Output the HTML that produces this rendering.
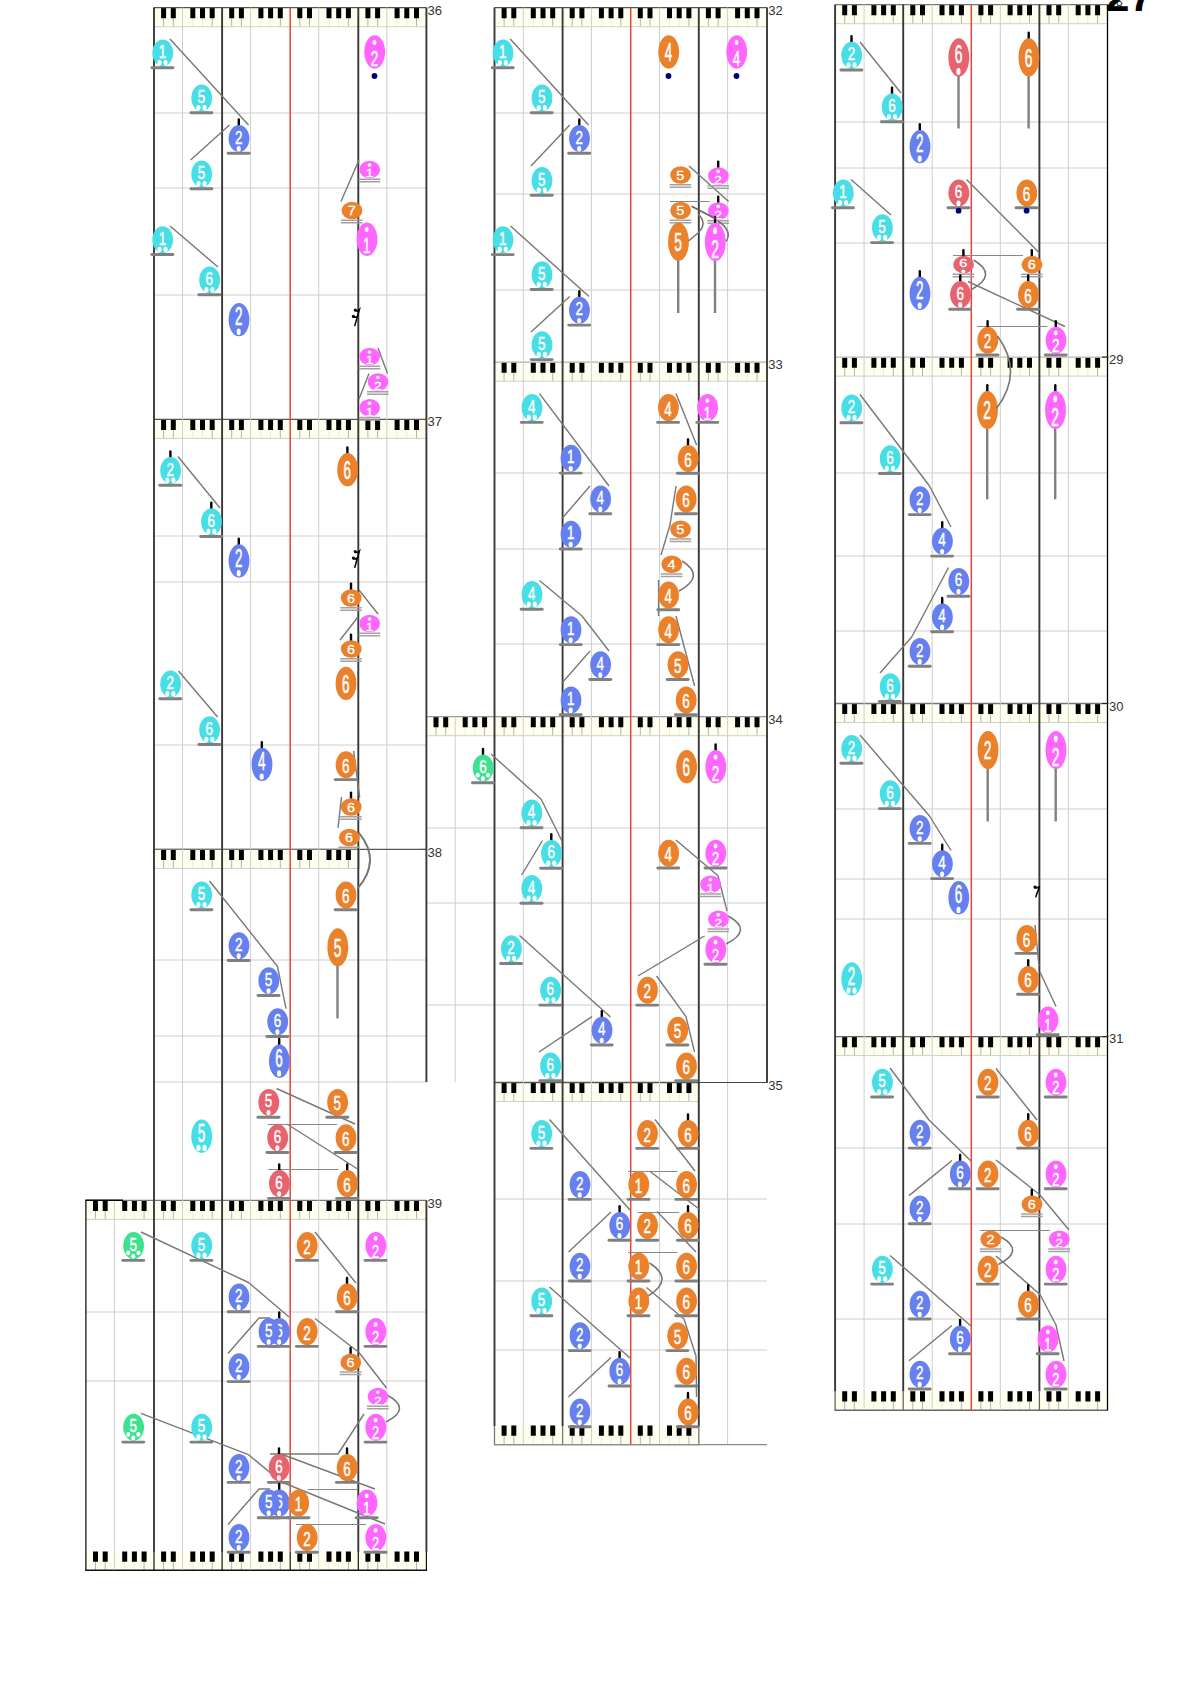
<!DOCTYPE html>
<html><head><meta charset="utf-8"><title>score</title>
<style>html,body{margin:0;padding:0;background:#fff}svg{display:block}.lb{font-family:"Liberation Sans",sans-serif;font-size:13px;fill:#333}.dg{font-family:"Liberation Sans",sans-serif;font-size:12px;fill:#fff;text-anchor:middle;stroke:#fff;stroke-width:.3px}.big{font-family:"Liberation Sans",sans-serif;font-size:43px;font-weight:bold;fill:#000}</style></head><body>
<svg width="1191" height="1684" viewBox="0 0 1191 1684">
<rect width="1191" height="1684" fill="#fff"/>
<path d="M154 113H426.4" stroke="#cecece" stroke-width="1"/>
<path d="M154 188H426.4" stroke="#cecece" stroke-width="1"/>
<path d="M154 295H426.4" stroke="#cecece" stroke-width="1"/>
<path d="M154 536H426.4" stroke="#cecece" stroke-width="1"/>
<path d="M154 582H426.4" stroke="#cecece" stroke-width="1"/>
<path d="M154 745H426.4" stroke="#cecece" stroke-width="1"/>
<path d="M154 960H426.4" stroke="#cecece" stroke-width="1"/>
<path d="M154 1036H426.4" stroke="#cecece" stroke-width="1"/>
<path d="M154 1082H426.4" stroke="#cecece" stroke-width="1"/>
<path d="M85.9 1312H426.4" stroke="#cecece" stroke-width="1"/>
<path d="M85.9 1381H426.4" stroke="#cecece" stroke-width="1"/>
<path d="M494.5 113H767" stroke="#cecece" stroke-width="1"/>
<path d="M494.5 194H767" stroke="#cecece" stroke-width="1"/>
<path d="M494.5 290H767" stroke="#cecece" stroke-width="1"/>
<path d="M494.5 473H767" stroke="#cecece" stroke-width="1"/>
<path d="M494.5 549H767" stroke="#cecece" stroke-width="1"/>
<path d="M494.5 644H767" stroke="#cecece" stroke-width="1"/>
<path d="M426.4 828H767" stroke="#cecece" stroke-width="1"/>
<path d="M426.4 903H767" stroke="#cecece" stroke-width="1"/>
<path d="M426.4 1005H767" stroke="#cecece" stroke-width="1"/>
<path d="M494.5 1199H767" stroke="#cecece" stroke-width="1"/>
<path d="M494.5 1281H767" stroke="#cecece" stroke-width="1"/>
<path d="M494.5 1350H767" stroke="#cecece" stroke-width="1"/>
<path d="M835.1 122H1107.2" stroke="#cecece" stroke-width="1"/>
<path d="M835.1 168H1107.2" stroke="#cecece" stroke-width="1"/>
<path d="M835.1 243H1107.2" stroke="#cecece" stroke-width="1"/>
<path d="M835.1 473H1107.2" stroke="#cecece" stroke-width="1"/>
<path d="M835.1 556H1107.2" stroke="#cecece" stroke-width="1"/>
<path d="M835.1 631H1107.2" stroke="#cecece" stroke-width="1"/>
<path d="M835.1 809H1107.2" stroke="#cecece" stroke-width="1"/>
<path d="M835.1 879H1107.2" stroke="#cecece" stroke-width="1"/>
<path d="M835.1 919H1107.2" stroke="#cecece" stroke-width="1"/>
<path d="M835.1 1148H1107.2" stroke="#cecece" stroke-width="1"/>
<path d="M835.1 1224H1107.2" stroke="#cecece" stroke-width="1"/>
<path d="M835.1 1319H1107.2" stroke="#cecece" stroke-width="1"/>
<rect x="154" y="7.5" width="272.4" height="19.2" fill="#fffff0"/>
<path d="M192.8 18V26.7M202.5 18V26.7M260.9 18V26.7M270.6 18V26.7M329 18V26.7M338.7 18V26.7M397.1 18V26.7M406.8 18V26.7" stroke="#ececd8" stroke-width="1" fill="none"/>
<path d="M163.6 18V26.7M173.3 18V26.7M212.2 18V26.7M231.7 18V26.7M241.4 18V26.7M280.3 18V26.7M299.8 18V26.7M309.5 18V26.7M348.4 18V26.7M367.9 18V26.7M377.6 18V26.7M416.5 18V26.7" stroke="#b4b4a8" stroke-width="1" fill="none"/>
<path d="M163.6 8.1v10.2M173.3 8.1v10.2M192.8 8.1v10.2M202.5 8.1v10.2M212.2 8.1v10.2M231.7 8.1v10.2M241.4 8.1v10.2M260.9 8.1v10.2M270.6 8.1v10.2M280.3 8.1v10.2M299.8 8.1v10.2M309.5 8.1v10.2M329 8.1v10.2M338.7 8.1v10.2M348.4 8.1v10.2M367.9 8.1v10.2M377.6 8.1v10.2M397.1 8.1v10.2M406.8 8.1v10.2M416.5 8.1v10.2" stroke="#000" stroke-width="5" fill="none"/>
<path d="M154 7.7H426.4" stroke="#555" stroke-width="1.3"/>
<path d="M154 26.7H426.4" stroke="#d0d0c8" stroke-width="1"/>
<rect x="154" y="419.2" width="272.4" height="19.2" fill="#fffff0"/>
<path d="M192.8 429.7V438.4M202.5 429.7V438.4M260.9 429.7V438.4M270.6 429.7V438.4M329 429.7V438.4M338.7 429.7V438.4M397.1 429.7V438.4M406.8 429.7V438.4" stroke="#ececd8" stroke-width="1" fill="none"/>
<path d="M163.6 429.7V438.4M173.3 429.7V438.4M212.2 429.7V438.4M231.7 429.7V438.4M241.4 429.7V438.4M280.3 429.7V438.4M299.8 429.7V438.4M309.5 429.7V438.4M348.4 429.7V438.4M367.9 429.7V438.4M377.6 429.7V438.4M416.5 429.7V438.4" stroke="#b4b4a8" stroke-width="1" fill="none"/>
<path d="M163.6 419.8v10.2M173.3 419.8v10.2M192.8 419.8v10.2M202.5 419.8v10.2M212.2 419.8v10.2M231.7 419.8v10.2M241.4 419.8v10.2M260.9 419.8v10.2M270.6 419.8v10.2M280.3 419.8v10.2M299.8 419.8v10.2M309.5 419.8v10.2M329 419.8v10.2M338.7 419.8v10.2M348.4 419.8v10.2M367.9 419.8v10.2M377.6 419.8v10.2M397.1 419.8v10.2M406.8 419.8v10.2M416.5 419.8v10.2" stroke="#000" stroke-width="5" fill="none"/>
<path d="M154 419.4H426.4" stroke="#555" stroke-width="1.3"/>
<path d="M154 438.4H426.4" stroke="#d0d0c8" stroke-width="1"/>
<rect x="154" y="849.2" width="204.3" height="19.2" fill="#fffff0"/>
<path d="M192.8 859.7V868.4M202.5 859.7V868.4M260.9 859.7V868.4M270.6 859.7V868.4M329 859.7V868.4M338.7 859.7V868.4" stroke="#ececd8" stroke-width="1" fill="none"/>
<path d="M163.6 859.7V868.4M173.3 859.7V868.4M212.2 859.7V868.4M231.7 859.7V868.4M241.4 859.7V868.4M280.3 859.7V868.4M299.8 859.7V868.4M309.5 859.7V868.4M348.4 859.7V868.4" stroke="#b4b4a8" stroke-width="1" fill="none"/>
<path d="M163.6 849.8v10.2M173.3 849.8v10.2M192.8 849.8v10.2M202.5 849.8v10.2M212.2 849.8v10.2M231.7 849.8v10.2M241.4 849.8v10.2M260.9 849.8v10.2M270.6 849.8v10.2M280.3 849.8v10.2M299.8 849.8v10.2M309.5 849.8v10.2M329 849.8v10.2M338.7 849.8v10.2M348.4 849.8v10.2" stroke="#000" stroke-width="5" fill="none"/>
<path d="M154 849.4H358.3" stroke="#777" stroke-width="1.3"/>
<path d="M154 868.4H358.3" stroke="#d0d0c8" stroke-width="1"/>
<rect x="85.9" y="1200.2" width="340.5" height="19.2" fill="#fffff0"/>
<path d="M124.7 1210.7V1219.4M134.4 1210.7V1219.4M192.8 1210.7V1219.4M202.5 1210.7V1219.4M260.9 1210.7V1219.4M270.6 1210.7V1219.4M329 1210.7V1219.4M338.7 1210.7V1219.4M397.1 1210.7V1219.4M406.8 1210.7V1219.4" stroke="#ececd8" stroke-width="1" fill="none"/>
<path d="M95.5 1210.7V1219.4M105.2 1210.7V1219.4M144.1 1210.7V1219.4M163.6 1210.7V1219.4M173.3 1210.7V1219.4M212.2 1210.7V1219.4M231.7 1210.7V1219.4M241.4 1210.7V1219.4M280.3 1210.7V1219.4M299.8 1210.7V1219.4M309.5 1210.7V1219.4M348.4 1210.7V1219.4M367.9 1210.7V1219.4M377.6 1210.7V1219.4M416.5 1210.7V1219.4" stroke="#b4b4a8" stroke-width="1" fill="none"/>
<path d="M95.5 1200.8v10.2M105.2 1200.8v10.2M124.7 1200.8v10.2M134.4 1200.8v10.2M144.1 1200.8v10.2M163.6 1200.8v10.2M173.3 1200.8v10.2M192.8 1200.8v10.2M202.5 1200.8v10.2M212.2 1200.8v10.2M231.7 1200.8v10.2M241.4 1200.8v10.2M260.9 1200.8v10.2M270.6 1200.8v10.2M280.3 1200.8v10.2M299.8 1200.8v10.2M309.5 1200.8v10.2M329 1200.8v10.2M338.7 1200.8v10.2M348.4 1200.8v10.2M367.9 1200.8v10.2M377.6 1200.8v10.2M397.1 1200.8v10.2M406.8 1200.8v10.2M416.5 1200.8v10.2" stroke="#000" stroke-width="5" fill="none"/>
<path d="M85.9 1200.4H426.4" stroke="#777" stroke-width="1.3"/>
<path d="M85.9 1219.4H426.4" stroke="#d0d0c8" stroke-width="1"/>
<path d="M85.4 1200.2H123" stroke="#000" stroke-width="1.4"/>
<rect x="85.9" y="1551" width="340.5" height="19.3" fill="#fffff0"/>
<path d="M124.7 1561.5V1570.3M134.4 1561.5V1570.3M192.8 1561.5V1570.3M202.5 1561.5V1570.3M260.9 1561.5V1570.3M270.6 1561.5V1570.3M329 1561.5V1570.3M338.7 1561.5V1570.3M397.1 1561.5V1570.3M406.8 1561.5V1570.3" stroke="#ececd8" stroke-width="1" fill="none"/>
<path d="M95.5 1561.5V1570.3M105.2 1561.5V1570.3M144.1 1561.5V1570.3M163.6 1561.5V1570.3M173.3 1561.5V1570.3M212.2 1561.5V1570.3M231.7 1561.5V1570.3M241.4 1561.5V1570.3M280.3 1561.5V1570.3M299.8 1561.5V1570.3M309.5 1561.5V1570.3M348.4 1561.5V1570.3M367.9 1561.5V1570.3M377.6 1561.5V1570.3M416.5 1561.5V1570.3" stroke="#b4b4a8" stroke-width="1" fill="none"/>
<path d="M95.5 1551.6v10.2M105.2 1551.6v10.2M124.7 1551.6v10.2M134.4 1551.6v10.2M144.1 1551.6v10.2M163.6 1551.6v10.2M173.3 1551.6v10.2M192.8 1551.6v10.2M202.5 1551.6v10.2M212.2 1551.6v10.2M231.7 1551.6v10.2M241.4 1551.6v10.2M260.9 1551.6v10.2M270.6 1551.6v10.2M280.3 1551.6v10.2M299.8 1551.6v10.2M309.5 1551.6v10.2M329 1551.6v10.2M338.7 1551.6v10.2M348.4 1551.6v10.2M367.9 1551.6v10.2M377.6 1551.6v10.2M397.1 1551.6v10.2M406.8 1551.6v10.2M416.5 1551.6v10.2" stroke="#000" stroke-width="5" fill="none"/>
<path d="M85.3 1570.3H427" stroke="#111" stroke-width="1.4"/>
<rect x="494.5" y="7.5" width="272.4" height="19.2" fill="#fffff0"/>
<path d="M533.3 18V26.7M543 18V26.7M601.4 18V26.7M611.1 18V26.7M669.5 18V26.7M679.2 18V26.7M737.6 18V26.7M747.3 18V26.7" stroke="#ececd8" stroke-width="1" fill="none"/>
<path d="M504.1 18V26.7M513.8 18V26.7M552.7 18V26.7M572.2 18V26.7M581.9 18V26.7M620.8 18V26.7M640.3 18V26.7M650 18V26.7M688.9 18V26.7M708.4 18V26.7M718.1 18V26.7M757 18V26.7" stroke="#b4b4a8" stroke-width="1" fill="none"/>
<path d="M504.1 8.1v10.2M513.8 8.1v10.2M533.3 8.1v10.2M543 8.1v10.2M552.7 8.1v10.2M572.2 8.1v10.2M581.9 8.1v10.2M601.4 8.1v10.2M611.1 8.1v10.2M620.8 8.1v10.2M640.3 8.1v10.2M650 8.1v10.2M669.5 8.1v10.2M679.2 8.1v10.2M688.9 8.1v10.2M708.4 8.1v10.2M718.1 8.1v10.2M737.6 8.1v10.2M747.3 8.1v10.2M757 8.1v10.2" stroke="#000" stroke-width="5" fill="none"/>
<path d="M494.5 7.7H766.9" stroke="#555" stroke-width="1.3"/>
<path d="M494.5 26.7H766.9" stroke="#d0d0c8" stroke-width="1"/>
<rect x="494.5" y="362" width="272.4" height="19.2" fill="#fffff0"/>
<path d="M533.3 372.5V381.2M543 372.5V381.2M601.4 372.5V381.2M611.1 372.5V381.2M669.5 372.5V381.2M679.2 372.5V381.2M737.6 372.5V381.2M747.3 372.5V381.2" stroke="#ececd8" stroke-width="1" fill="none"/>
<path d="M504.1 372.5V381.2M513.8 372.5V381.2M552.7 372.5V381.2M572.2 372.5V381.2M581.9 372.5V381.2M620.8 372.5V381.2M640.3 372.5V381.2M650 372.5V381.2M688.9 372.5V381.2M708.4 372.5V381.2M718.1 372.5V381.2M757 372.5V381.2" stroke="#b4b4a8" stroke-width="1" fill="none"/>
<path d="M504.1 362.6v10.2M513.8 362.6v10.2M533.3 362.6v10.2M543 362.6v10.2M552.7 362.6v10.2M572.2 362.6v10.2M581.9 362.6v10.2M601.4 362.6v10.2M611.1 362.6v10.2M620.8 362.6v10.2M640.3 362.6v10.2M650 362.6v10.2M669.5 362.6v10.2M679.2 362.6v10.2M688.9 362.6v10.2M708.4 362.6v10.2M718.1 362.6v10.2M737.6 362.6v10.2M747.3 362.6v10.2M757 362.6v10.2" stroke="#000" stroke-width="5" fill="none"/>
<path d="M494.5 362.2H766.9" stroke="#b0b0b0" stroke-width="1.3"/>
<path d="M494.5 381.2H766.9" stroke="#d0d0c8" stroke-width="1"/>
<rect x="426.4" y="716.5" width="340.5" height="19.2" fill="#fffff0"/>
<path d="M465.2 727V735.7M474.9 727V735.7M533.3 727V735.7M543 727V735.7M601.4 727V735.7M611.1 727V735.7M669.5 727V735.7M679.2 727V735.7M737.6 727V735.7M747.3 727V735.7" stroke="#ececd8" stroke-width="1" fill="none"/>
<path d="M436 727V735.7M445.7 727V735.7M484.6 727V735.7M504.1 727V735.7M513.8 727V735.7M552.7 727V735.7M572.2 727V735.7M581.9 727V735.7M620.8 727V735.7M640.3 727V735.7M650 727V735.7M688.9 727V735.7M708.4 727V735.7M718.1 727V735.7M757 727V735.7" stroke="#b4b4a8" stroke-width="1" fill="none"/>
<path d="M436 717.1v10.2M445.7 717.1v10.2M465.2 717.1v10.2M474.9 717.1v10.2M484.6 717.1v10.2M504.1 717.1v10.2M513.8 717.1v10.2M533.3 717.1v10.2M543 717.1v10.2M552.7 717.1v10.2M572.2 717.1v10.2M581.9 717.1v10.2M601.4 717.1v10.2M611.1 717.1v10.2M620.8 717.1v10.2M640.3 717.1v10.2M650 717.1v10.2M669.5 717.1v10.2M679.2 717.1v10.2M688.9 717.1v10.2M708.4 717.1v10.2M718.1 717.1v10.2M737.6 717.1v10.2M747.3 717.1v10.2M757 717.1v10.2" stroke="#000" stroke-width="5" fill="none"/>
<path d="M426.4 716.7H766.9" stroke="#999" stroke-width="1.3"/>
<path d="M426.4 735.7H766.9" stroke="#d0d0c8" stroke-width="1"/>
<rect x="494.5" y="1082.3" width="204.3" height="19.2" fill="#fffff0"/>
<path d="M533.3 1092.8V1101.5M543 1092.8V1101.5M601.4 1092.8V1101.5M611.1 1092.8V1101.5M669.5 1092.8V1101.5M679.2 1092.8V1101.5" stroke="#ececd8" stroke-width="1" fill="none"/>
<path d="M504.1 1092.8V1101.5M513.8 1092.8V1101.5M552.7 1092.8V1101.5M572.2 1092.8V1101.5M581.9 1092.8V1101.5M620.8 1092.8V1101.5M640.3 1092.8V1101.5M650 1092.8V1101.5M688.9 1092.8V1101.5" stroke="#b4b4a8" stroke-width="1" fill="none"/>
<path d="M504.1 1082.9v10.2M513.8 1082.9v10.2M533.3 1082.9v10.2M543 1082.9v10.2M552.7 1082.9v10.2M572.2 1082.9v10.2M581.9 1082.9v10.2M601.4 1082.9v10.2M611.1 1082.9v10.2M620.8 1082.9v10.2M640.3 1082.9v10.2M650 1082.9v10.2M669.5 1082.9v10.2M679.2 1082.9v10.2M688.9 1082.9v10.2" stroke="#000" stroke-width="5" fill="none"/>
<path d="M494.5 1082.5H698.8" stroke="#555" stroke-width="1.3"/>
<path d="M494.5 1101.5H698.8" stroke="#d0d0c8" stroke-width="1"/>
<rect x="494.5" y="1425" width="204.3" height="19.6" fill="#fffff0"/>
<path d="M533.3 1435.5V1444.6M543 1435.5V1444.6M601.4 1435.5V1444.6M611.1 1435.5V1444.6M669.5 1435.5V1444.6M679.2 1435.5V1444.6" stroke="#ececd8" stroke-width="1" fill="none"/>
<path d="M504.1 1435.5V1444.6M513.8 1435.5V1444.6M552.7 1435.5V1444.6M572.2 1435.5V1444.6M581.9 1435.5V1444.6M620.8 1435.5V1444.6M640.3 1435.5V1444.6M650 1435.5V1444.6M688.9 1435.5V1444.6" stroke="#b4b4a8" stroke-width="1" fill="none"/>
<path d="M504.1 1425.6v10.2M513.8 1425.6v10.2M533.3 1425.6v10.2M543 1425.6v10.2M552.7 1425.6v10.2M572.2 1425.6v10.2M581.9 1425.6v10.2M601.4 1425.6v10.2M611.1 1425.6v10.2M620.8 1425.6v10.2M640.3 1425.6v10.2M650 1425.6v10.2M669.5 1425.6v10.2M679.2 1425.6v10.2M688.9 1425.6v10.2" stroke="#000" stroke-width="5" fill="none"/>
<path d="M493.9 1444.6H699.4" stroke="#808080" stroke-width="1.4"/>
<rect x="835.1" y="4.5" width="272.4" height="19.2" fill="#fffff0"/>
<path d="M873.9 15V23.7M883.6 15V23.7M942 15V23.7M951.7 15V23.7M1010.1 15V23.7M1019.8 15V23.7M1078.2 15V23.7M1087.9 15V23.7" stroke="#ececd8" stroke-width="1" fill="none"/>
<path d="M844.7 15V23.7M854.4 15V23.7M893.3 15V23.7M912.8 15V23.7M922.5 15V23.7M961.4 15V23.7M980.9 15V23.7M990.6 15V23.7M1029.5 15V23.7M1049 15V23.7M1058.7 15V23.7M1097.6 15V23.7" stroke="#b4b4a8" stroke-width="1" fill="none"/>
<path d="M844.7 5.1v10.2M854.4 5.1v10.2M873.9 5.1v10.2M883.6 5.1v10.2M893.3 5.1v10.2M912.8 5.1v10.2M922.5 5.1v10.2M942 5.1v10.2M951.7 5.1v10.2M961.4 5.1v10.2M980.9 5.1v10.2M990.6 5.1v10.2M1010.1 5.1v10.2M1019.8 5.1v10.2M1029.5 5.1v10.2M1049 5.1v10.2M1058.7 5.1v10.2M1078.2 5.1v10.2M1087.9 5.1v10.2M1097.6 5.1v10.2" stroke="#000" stroke-width="5" fill="none"/>
<path d="M835.1 4.7H1107.5" stroke="#777" stroke-width="1.3"/>
<path d="M835.1 23.7H1107.5" stroke="#d0d0c8" stroke-width="1"/>
<rect x="835.1" y="356.9" width="272.4" height="19.2" fill="#fffff0"/>
<path d="M873.9 367.4V376.1M883.6 367.4V376.1M942 367.4V376.1M951.7 367.4V376.1M1010.1 367.4V376.1M1019.8 367.4V376.1M1078.2 367.4V376.1M1087.9 367.4V376.1" stroke="#ececd8" stroke-width="1" fill="none"/>
<path d="M844.7 367.4V376.1M854.4 367.4V376.1M893.3 367.4V376.1M912.8 367.4V376.1M922.5 367.4V376.1M961.4 367.4V376.1M980.9 367.4V376.1M990.6 367.4V376.1M1029.5 367.4V376.1M1049 367.4V376.1M1058.7 367.4V376.1M1097.6 367.4V376.1" stroke="#b4b4a8" stroke-width="1" fill="none"/>
<path d="M844.7 357.5v10.2M854.4 357.5v10.2M873.9 357.5v10.2M883.6 357.5v10.2M893.3 357.5v10.2M912.8 357.5v10.2M922.5 357.5v10.2M942 357.5v10.2M951.7 357.5v10.2M961.4 357.5v10.2M980.9 357.5v10.2M990.6 357.5v10.2M1010.1 357.5v10.2M1019.8 357.5v10.2M1029.5 357.5v10.2M1049 357.5v10.2M1058.7 357.5v10.2M1078.2 357.5v10.2M1087.9 357.5v10.2M1097.6 357.5v10.2" stroke="#000" stroke-width="5" fill="none"/>
<path d="M835.1 357.1H1107.5" stroke="#bbb" stroke-width="1.3"/>
<path d="M835.1 376.1H1107.5" stroke="#d0d0c8" stroke-width="1"/>
<rect x="835.1" y="703.3" width="272.4" height="19.2" fill="#fffff0"/>
<path d="M873.9 713.8V722.5M883.6 713.8V722.5M942 713.8V722.5M951.7 713.8V722.5M1010.1 713.8V722.5M1019.8 713.8V722.5M1078.2 713.8V722.5M1087.9 713.8V722.5" stroke="#ececd8" stroke-width="1" fill="none"/>
<path d="M844.7 713.8V722.5M854.4 713.8V722.5M893.3 713.8V722.5M912.8 713.8V722.5M922.5 713.8V722.5M961.4 713.8V722.5M980.9 713.8V722.5M990.6 713.8V722.5M1029.5 713.8V722.5M1049 713.8V722.5M1058.7 713.8V722.5M1097.6 713.8V722.5" stroke="#b4b4a8" stroke-width="1" fill="none"/>
<path d="M844.7 703.9v10.2M854.4 703.9v10.2M873.9 703.9v10.2M883.6 703.9v10.2M893.3 703.9v10.2M912.8 703.9v10.2M922.5 703.9v10.2M942 703.9v10.2M951.7 703.9v10.2M961.4 703.9v10.2M980.9 703.9v10.2M990.6 703.9v10.2M1010.1 703.9v10.2M1019.8 703.9v10.2M1029.5 703.9v10.2M1049 703.9v10.2M1058.7 703.9v10.2M1078.2 703.9v10.2M1087.9 703.9v10.2M1097.6 703.9v10.2" stroke="#000" stroke-width="5" fill="none"/>
<path d="M835.1 703.5H1107.5" stroke="#777" stroke-width="1.3"/>
<path d="M835.1 722.5H1107.5" stroke="#d0d0c8" stroke-width="1"/>
<rect x="835.1" y="1036.4" width="272.4" height="19.2" fill="#fffff0"/>
<path d="M873.9 1046.9V1055.6M883.6 1046.9V1055.6M942 1046.9V1055.6M951.7 1046.9V1055.6M1010.1 1046.9V1055.6M1019.8 1046.9V1055.6M1078.2 1046.9V1055.6M1087.9 1046.9V1055.6" stroke="#ececd8" stroke-width="1" fill="none"/>
<path d="M844.7 1046.9V1055.6M854.4 1046.9V1055.6M893.3 1046.9V1055.6M912.8 1046.9V1055.6M922.5 1046.9V1055.6M961.4 1046.9V1055.6M980.9 1046.9V1055.6M990.6 1046.9V1055.6M1029.5 1046.9V1055.6M1049 1046.9V1055.6M1058.7 1046.9V1055.6M1097.6 1046.9V1055.6" stroke="#b4b4a8" stroke-width="1" fill="none"/>
<path d="M844.7 1037v10.2M854.4 1037v10.2M873.9 1037v10.2M883.6 1037v10.2M893.3 1037v10.2M912.8 1037v10.2M922.5 1037v10.2M942 1037v10.2M951.7 1037v10.2M961.4 1037v10.2M980.9 1037v10.2M990.6 1037v10.2M1010.1 1037v10.2M1019.8 1037v10.2M1029.5 1037v10.2M1049 1037v10.2M1058.7 1037v10.2M1078.2 1037v10.2M1087.9 1037v10.2M1097.6 1037v10.2" stroke="#000" stroke-width="5" fill="none"/>
<path d="M835.1 1036.6H1107.5" stroke="#666" stroke-width="1.3"/>
<path d="M835.1 1055.6H1107.5" stroke="#d0d0c8" stroke-width="1"/>
<rect x="835.1" y="1390.6" width="272.4" height="19.6" fill="#fffff0"/>
<path d="M873.9 1401.1V1410.2M883.6 1401.1V1410.2M942 1401.1V1410.2M951.7 1401.1V1410.2M1010.1 1401.1V1410.2M1019.8 1401.1V1410.2M1078.2 1401.1V1410.2M1087.9 1401.1V1410.2" stroke="#ececd8" stroke-width="1" fill="none"/>
<path d="M844.7 1401.1V1410.2M854.4 1401.1V1410.2M893.3 1401.1V1410.2M912.8 1401.1V1410.2M922.5 1401.1V1410.2M961.4 1401.1V1410.2M980.9 1401.1V1410.2M990.6 1401.1V1410.2M1029.5 1401.1V1410.2M1049 1401.1V1410.2M1058.7 1401.1V1410.2M1097.6 1401.1V1410.2" stroke="#b4b4a8" stroke-width="1" fill="none"/>
<path d="M844.7 1391.2v10.2M854.4 1391.2v10.2M873.9 1391.2v10.2M883.6 1391.2v10.2M893.3 1391.2v10.2M912.8 1391.2v10.2M922.5 1391.2v10.2M942 1391.2v10.2M951.7 1391.2v10.2M961.4 1391.2v10.2M980.9 1391.2v10.2M990.6 1391.2v10.2M1010.1 1391.2v10.2M1019.8 1391.2v10.2M1029.5 1391.2v10.2M1049 1391.2v10.2M1058.7 1391.2v10.2M1078.2 1391.2v10.2M1087.9 1391.2v10.2M1097.6 1391.2v10.2" stroke="#000" stroke-width="5" fill="none"/>
<path d="M834.5 1410.2H1108.1" stroke="#666" stroke-width="1.4"/>
<path d="M182.5 7.5V1570" stroke="#cecece" stroke-width="1"/>
<path d="M250.6 7.5V1570" stroke="#cecece" stroke-width="1"/>
<path d="M318.7 7.5V1570" stroke="#cecece" stroke-width="1"/>
<path d="M386.8 7.5V1570" stroke="#cecece" stroke-width="1"/>
<path d="M114.4 1201V1570" stroke="#cecece" stroke-width="1"/>
<path d="M523.3 7.5V1445" stroke="#cecece" stroke-width="1"/>
<path d="M591.4 7.5V1445" stroke="#cecece" stroke-width="1"/>
<path d="M659.5 7.5V1445" stroke="#cecece" stroke-width="1"/>
<path d="M727.6 7.5V1445" stroke="#cecece" stroke-width="1"/>
<path d="M455.2 716.6V1082" stroke="#cecece" stroke-width="1"/>
<path d="M864.1 4.5V1410" stroke="#cecece" stroke-width="1"/>
<path d="M932.2 4.5V1410" stroke="#cecece" stroke-width="1"/>
<path d="M1000.3 4.5V1410" stroke="#cecece" stroke-width="1"/>
<path d="M1068.4 4.5V1410" stroke="#cecece" stroke-width="1"/>
<path d="M358 849.4H427" stroke="#555" stroke-width="1.1"/>
<path d="M420 849.4H427" stroke="#555" stroke-width="1.1"/>
<path d="M698.6 1082.5H767.6" stroke="#444" stroke-width="1.2"/>
<path d="M494.5 1444.6H767" stroke="#8c8c8c" stroke-width="1.2"/>
<path d="M154 7.5V1552" stroke="#383838" stroke-width="1.9"/>
<path d="M154 1552V1570.3" stroke="#111" stroke-width="1.2"/>
<path d="M222.1 7.5V1552" stroke="#383838" stroke-width="1.9"/>
<path d="M222.1 1552V1570.3" stroke="#111" stroke-width="1.2"/>
<path d="M358.3 7.5V1552" stroke="#383838" stroke-width="1.9"/>
<path d="M358.3 1552V1570.3" stroke="#111" stroke-width="1.2"/>
<path d="M290.2 7.5V1552" stroke="#e8423c" stroke-width="1.5"/>
<path d="M290.2 1552V1570.3" stroke="#111" stroke-width="1.2"/>
<path d="M426.4 7.5V1082" stroke="#383838" stroke-width="1.9"/>
<path d="M426.4 1200.2V1552" stroke="#383838" stroke-width="1.9"/>
<path d="M426.4 1552V1570.3" stroke="#111" stroke-width="1.2"/>
<path d="M85.9 1200.2V1570.3" stroke="#000" stroke-width="1.2"/>
<path d="M494.5 7.5V1426" stroke="#383838" stroke-width="1.9"/>
<path d="M494.5 1426V1444.6" stroke="#777" stroke-width="1.3"/>
<path d="M562.6 7.5V1426" stroke="#383838" stroke-width="1.9"/>
<path d="M562.6 1426V1444.6" stroke="#777" stroke-width="1.3"/>
<path d="M698.8 7.5V1426" stroke="#383838" stroke-width="1.9"/>
<path d="M698.8 1426V1444.6" stroke="#777" stroke-width="1.3"/>
<path d="M630.7 7.5V1444.6" stroke="#e8423c" stroke-width="1.5"/>
<path d="M767 7.5V1082.6" stroke="#383838" stroke-width="1.9"/>
<path d="M835.1 4.5V1391.5" stroke="#383838" stroke-width="1.9"/>
<path d="M835.1 1391.5V1410.2" stroke="#666" stroke-width="1.3"/>
<path d="M903.2 4.5V1391.5" stroke="#383838" stroke-width="1.9"/>
<path d="M903.2 1391.5V1410.2" stroke="#666" stroke-width="1.3"/>
<path d="M1039.4 4.5V1391.5" stroke="#383838" stroke-width="1.9"/>
<path d="M1039.4 1391.5V1410.2" stroke="#666" stroke-width="1.3"/>
<path d="M971.3 4.5V1410.2" stroke="#e8423c" stroke-width="1.5"/>
<path d="M1107.5 4.5V1410.2" stroke="#000" stroke-width="1.3"/>
<text x="427.6" y="14.6" class="lb">36</text>
<text x="427.6" y="426.4" class="lb">37</text>
<text x="427.6" y="856.6" class="lb">38</text>
<text x="427.6" y="1207.6" class="lb">39</text>
<text x="768.2" y="14.6" class="lb">32</text>
<text x="768.2" y="369.4" class="lb">33</text>
<text x="768.2" y="723.6" class="lb">34</text>
<text x="768.2" y="1089.6" class="lb">35</text>
<text x="1109" y="364" class="lb">29</text>
<text x="1109" y="710.6" class="lb">30</text>
<text x="1109" y="1043.4" class="lb">31</text>
<text x="1108.5" y="9.5" class="lb">28</text>
<path d="M1102 357.1H1108.5" stroke="#222" stroke-width="1.1"/>
<path d="M1102 703.5H1108.5" stroke="#222" stroke-width="1.1"/>
<path d="M1102 1036.6H1108.5" stroke="#222" stroke-width="1.1"/>
<text x="1105.6" y="11" class="big">27</text>
<path d="M170 39L248.5 125" stroke="#787878" stroke-width="1.4" fill="none" stroke-linejoin="round"/>
<path d="M190.6 160L229.5 125" stroke="#787878" stroke-width="1.4" fill="none" stroke-linejoin="round"/>
<path d="M341 201.5L359 160" stroke="#787878" stroke-width="1.4" fill="none" stroke-linejoin="round"/>
<path d="M170 226L218 267" stroke="#787878" stroke-width="1.4" fill="none" stroke-linejoin="round"/>
<path d="M378 348L387.5 373.5" stroke="#787878" stroke-width="1.4" fill="none" stroke-linejoin="round"/>
<path d="M359 399L369 373.5" stroke="#787878" stroke-width="1.4" fill="none" stroke-linejoin="round"/>
<ellipse cx="162.7" cy="53" rx="10.4" ry="13.5" fill="#48DEE6"/>
<text transform="translate(162.4 58) scale(1.12 1.60)" class="dg">1</text>
<ellipse cx="159.5" cy="62.8" rx="2.05" ry="2.8" fill="#fff"/>
<ellipse cx="165.5" cy="62.8" rx="2.05" ry="2.8" fill="#fff"/>
<path d="M151.9 67.8H172.9" stroke="#808080" stroke-width="2.9" stroke-linecap="round"/>
<ellipse cx="201.7" cy="98" rx="10.4" ry="13.5" fill="#48DEE6"/>
<text transform="translate(201.4 103) scale(1.12 1.60)" class="dg">5</text>
<ellipse cx="198.5" cy="107.8" rx="2.05" ry="2.8" fill="#fff"/>
<ellipse cx="204.5" cy="107.8" rx="2.05" ry="2.8" fill="#fff"/>
<path d="M190.9 112.8H211.9" stroke="#808080" stroke-width="2.9" stroke-linecap="round"/>
<path d="M238.8 119.4V126" stroke="#000" stroke-width="2.4" stroke-linecap="round"/>
<ellipse cx="239" cy="138.5" rx="10.4" ry="13.5" fill="#6680F0"/>
<text transform="translate(238.7 143.5) scale(1.12 1.60)" class="dg">2</text>
<ellipse cx="238.7" cy="148.9" rx="2.05" ry="2.8" fill="#fff"/>
<path d="M228.2 153.3H249.2" stroke="#808080" stroke-width="2.9" stroke-linecap="round"/>
<ellipse cx="201.7" cy="174" rx="10.4" ry="13.5" fill="#48DEE6"/>
<text transform="translate(201.4 179) scale(1.12 1.60)" class="dg">5</text>
<ellipse cx="198.5" cy="183.8" rx="2.05" ry="2.8" fill="#fff"/>
<ellipse cx="204.5" cy="183.8" rx="2.05" ry="2.8" fill="#fff"/>
<path d="M190.9 188.8H211.9" stroke="#808080" stroke-width="2.9" stroke-linecap="round"/>
<ellipse cx="374.7" cy="52" rx="10.4" ry="16.7" fill="#FF66FF"/>
<text transform="translate(374.4 66) scale(1.12 1.88)" class="dg">2</text>
<ellipse cx="374.5" cy="42.3" rx="1.9" ry="2.6" fill="#fff"/>
<circle cx="374.5" cy="76" r="2.9" fill="#000080"/>
<ellipse cx="369.7" cy="169.5" rx="10.4" ry="8.8" fill="#FF66FF"/>
<text transform="translate(369.4 177.4) scale(1.2 0.92)" class="dg">1</text>
<ellipse cx="369.5" cy="165" rx="1.9" ry="1.7" fill="#fff"/>
<path d="M358.7 179.2H380.3M358.7 181.7H380.3" stroke="#a2a2a2" stroke-width="1.5"/>
<ellipse cx="352" cy="210.5" rx="10.4" ry="8.8" fill="#EC812C"/>
<text transform="translate(351.7 215.3) scale(1.2 1.02)" class="dg">7</text>
<path d="M341 220.2H362.6M341 222.7H362.6" stroke="#a2a2a2" stroke-width="1.5"/>
<ellipse cx="367" cy="239.3" rx="10.4" ry="16.7" fill="#FF66FF"/>
<text transform="translate(366.7 253.2) scale(1.12 1.88)" class="dg">1</text>
<ellipse cx="366.8" cy="229.6" rx="1.9" ry="2.6" fill="#fff"/>
<ellipse cx="162.7" cy="239.7" rx="10.4" ry="13.5" fill="#48DEE6"/>
<text transform="translate(162.4 244.7) scale(1.12 1.60)" class="dg">1</text>
<ellipse cx="159.5" cy="249.5" rx="2.05" ry="2.8" fill="#fff"/>
<ellipse cx="165.5" cy="249.5" rx="2.05" ry="2.8" fill="#fff"/>
<path d="M151.9 254.5H172.9" stroke="#808080" stroke-width="2.9" stroke-linecap="round"/>
<ellipse cx="209.6" cy="280" rx="10.4" ry="13.5" fill="#48DEE6"/>
<text transform="translate(209.3 285) scale(1.12 1.60)" class="dg">6</text>
<ellipse cx="206.4" cy="289.8" rx="2.05" ry="2.8" fill="#fff"/>
<ellipse cx="212.4" cy="289.8" rx="2.05" ry="2.8" fill="#fff"/>
<path d="M198.8 294.8H219.8" stroke="#808080" stroke-width="2.9" stroke-linecap="round"/>
<ellipse cx="239" cy="319.6" rx="10.4" ry="16.7" fill="#6680F0"/>
<text transform="translate(238.7 325.2) scale(1.12 2.09)" class="dg">2</text>
<ellipse cx="238.7" cy="331.8" rx="2.05" ry="3.2" fill="#fff"/>
<g transform="translate(356 317)"><circle cx="-0.7" cy="-7" r="1.6" fill="#000"/><circle cx="-2.6" cy="-0.6" r="1.6" fill="#000"/><path d="M-0.6 -6.2Q1.8 -5.8 3.4 -7.4L-1.2 8.6M-2.4 0.3Q0 0.6 1.6 -1" stroke="#000" stroke-width="1.5" fill="none" stroke-linecap="round"/></g>
<ellipse cx="369.7" cy="356.5" rx="10.4" ry="8.8" fill="#FF66FF"/>
<text transform="translate(369.4 364.4) scale(1.2 0.92)" class="dg">1</text>
<ellipse cx="369.5" cy="352" rx="1.9" ry="1.7" fill="#fff"/>
<path d="M358.7 366.2H380.3M358.7 368.7H380.3" stroke="#a2a2a2" stroke-width="1.5"/>
<ellipse cx="378" cy="382" rx="10.4" ry="8.8" fill="#FF66FF"/>
<text transform="translate(377.7 389.9) scale(1.2 0.92)" class="dg">2</text>
<ellipse cx="377.8" cy="377.5" rx="1.9" ry="1.7" fill="#fff"/>
<path d="M367 391.7H388.6M367 394.2H388.6" stroke="#a2a2a2" stroke-width="1.5"/>
<ellipse cx="369.7" cy="407.8" rx="10.4" ry="8.8" fill="#FF66FF"/>
<text transform="translate(369.4 415.7) scale(1.2 0.92)" class="dg">1</text>
<ellipse cx="369.5" cy="403.3" rx="1.9" ry="1.7" fill="#fff"/>
<path d="M358.7 417.5H380.3M358.7 420H380.3" stroke="#a2a2a2" stroke-width="1.5"/>
<path d="M178 456.5L220 508" stroke="#787878" stroke-width="1.4" fill="none" stroke-linejoin="round"/>
<path d="M359 590L378 614" stroke="#787878" stroke-width="1.4" fill="none" stroke-linejoin="round"/>
<path d="M340 640L358 617" stroke="#787878" stroke-width="1.4" fill="none" stroke-linejoin="round"/>
<path d="M178.5 671L217.6 717" stroke="#787878" stroke-width="1.4" fill="none" stroke-linejoin="round"/>
<path d="M353.6 751L359.7 797.7" stroke="#787878" stroke-width="1.4" fill="none" stroke-linejoin="round"/>
<path d="M341.5 797L338 828" stroke="#787878" stroke-width="1.4" fill="none" stroke-linejoin="round"/>
<path d="M359 833Q381.5 860.5 358 888" stroke="#777" stroke-width="1.6" fill="none"/>
<path d="M170.4 451.4V458" stroke="#000" stroke-width="2.4" stroke-linecap="round"/>
<ellipse cx="170.6" cy="470.5" rx="10.4" ry="13.5" fill="#48DEE6"/>
<text transform="translate(170.3 475.5) scale(1.12 1.60)" class="dg">2</text>
<ellipse cx="167.4" cy="480.3" rx="2.05" ry="2.8" fill="#fff"/>
<ellipse cx="173.4" cy="480.3" rx="2.05" ry="2.8" fill="#fff"/>
<path d="M159.8 485.3H180.8" stroke="#808080" stroke-width="2.9" stroke-linecap="round"/>
<path d="M211.3 502.6V509.2" stroke="#000" stroke-width="2.4" stroke-linecap="round"/>
<ellipse cx="211.5" cy="521.7" rx="10.4" ry="13.5" fill="#48DEE6"/>
<text transform="translate(211.2 526.7) scale(1.12 1.60)" class="dg">6</text>
<ellipse cx="208.3" cy="531.5" rx="2.05" ry="2.8" fill="#fff"/>
<ellipse cx="214.3" cy="531.5" rx="2.05" ry="2.8" fill="#fff"/>
<path d="M200.7 536.5H221.7" stroke="#808080" stroke-width="2.9" stroke-linecap="round"/>
<path d="M238.8 538.7V545.3" stroke="#000" stroke-width="2.4" stroke-linecap="round"/>
<ellipse cx="239" cy="561" rx="10.4" ry="16.7" fill="#6680F0"/>
<text transform="translate(238.7 566.6) scale(1.12 2.09)" class="dg">2</text>
<ellipse cx="238.7" cy="573.2" rx="2.05" ry="3.2" fill="#fff"/>
<path d="M347.4 447.4V454" stroke="#000" stroke-width="2.4" stroke-linecap="round"/>
<ellipse cx="347.6" cy="469.7" rx="10.4" ry="16.7" fill="#EC812C"/>
<text transform="translate(347.3 478.9) scale(1.12 2.15)" class="dg">6</text>
<g transform="translate(356 558.6)"><circle cx="-0.7" cy="-7" r="1.6" fill="#000"/><circle cx="-2.6" cy="-0.6" r="1.6" fill="#000"/><path d="M-0.6 -6.2Q1.8 -5.8 3.4 -7.4L-1.2 8.6M-2.4 0.3Q0 0.6 1.6 -1" stroke="#000" stroke-width="1.5" fill="none" stroke-linecap="round"/></g>
<path d="M351 583.6V590.2" stroke="#000" stroke-width="2.4" stroke-linecap="round"/>
<ellipse cx="351.2" cy="598" rx="10.4" ry="8.8" fill="#EC812C"/>
<text transform="translate(350.9 602.8) scale(1.2 1.02)" class="dg">6</text>
<path d="M340.2 607.7H361.8M340.2 610.2H361.8" stroke="#a2a2a2" stroke-width="1.5"/>
<ellipse cx="369.7" cy="623.5" rx="10.4" ry="8.8" fill="#FF66FF"/>
<text transform="translate(369.4 631.4) scale(1.2 0.92)" class="dg">1</text>
<ellipse cx="369.5" cy="619" rx="1.9" ry="1.7" fill="#fff"/>
<path d="M358.7 633.2H380.3M358.7 635.7H380.3" stroke="#a2a2a2" stroke-width="1.5"/>
<path d="M351 634.6V641.2" stroke="#000" stroke-width="2.4" stroke-linecap="round"/>
<ellipse cx="351.2" cy="649" rx="10.4" ry="8.8" fill="#EC812C"/>
<text transform="translate(350.9 653.8) scale(1.2 1.02)" class="dg">6</text>
<path d="M340.2 658.7H361.8M340.2 661.2H361.8" stroke="#a2a2a2" stroke-width="1.5"/>
<ellipse cx="346" cy="683.4" rx="10.4" ry="16.7" fill="#EC812C"/>
<text transform="translate(345.7 692.6) scale(1.12 2.15)" class="dg">6</text>
<ellipse cx="170.6" cy="684" rx="10.4" ry="13.5" fill="#48DEE6"/>
<text transform="translate(170.3 689) scale(1.12 1.60)" class="dg">2</text>
<ellipse cx="167.4" cy="693.8" rx="2.05" ry="2.8" fill="#fff"/>
<ellipse cx="173.4" cy="693.8" rx="2.05" ry="2.8" fill="#fff"/>
<path d="M159.8 698.8H180.8" stroke="#808080" stroke-width="2.9" stroke-linecap="round"/>
<ellipse cx="209.6" cy="729.7" rx="10.4" ry="13.5" fill="#48DEE6"/>
<text transform="translate(209.3 734.7) scale(1.12 1.60)" class="dg">6</text>
<ellipse cx="206.4" cy="739.5" rx="2.05" ry="2.8" fill="#fff"/>
<ellipse cx="212.4" cy="739.5" rx="2.05" ry="2.8" fill="#fff"/>
<path d="M198.8 744.5H219.8" stroke="#808080" stroke-width="2.9" stroke-linecap="round"/>
<path d="M261.8 742.1V748.7" stroke="#000" stroke-width="2.4" stroke-linecap="round"/>
<ellipse cx="262" cy="764.4" rx="10.4" ry="16.7" fill="#6680F0"/>
<text transform="translate(261.7 770) scale(1.12 2.09)" class="dg">4</text>
<ellipse cx="261.7" cy="776.6" rx="2.05" ry="3.2" fill="#fff"/>
<ellipse cx="346" cy="764.8" rx="10.4" ry="13.5" fill="#EC812C"/>
<text transform="translate(345.7 772.8) scale(1.12 1.62)" class="dg">6</text>
<path d="M335.2 779.6H356.2" stroke="#808080" stroke-width="2.9" stroke-linecap="round"/>
<path d="M351 792.6V799.2" stroke="#000" stroke-width="2.4" stroke-linecap="round"/>
<ellipse cx="351.2" cy="807" rx="10.4" ry="8.8" fill="#EC812C"/>
<text transform="translate(350.9 811.8) scale(1.2 1.02)" class="dg">6</text>
<path d="M340.2 816.7H361.8M340.2 819.2H361.8" stroke="#a2a2a2" stroke-width="1.5"/>
<ellipse cx="349.3" cy="837.5" rx="10.4" ry="8.8" fill="#EC812C"/>
<text transform="translate(349 842.3) scale(1.2 1.02)" class="dg">6</text>
<path d="M338.3 847.2H359.9M338.3 849.7H359.9" stroke="#a2a2a2" stroke-width="1.5"/>
<rect x="154" y="849.2" width="204.3" height="19.2" fill="#fffff0"/>
<path d="M192.8 859.7V868.4M202.5 859.7V868.4M260.9 859.7V868.4M270.6 859.7V868.4M329 859.7V868.4M338.7 859.7V868.4" stroke="#ececd8" stroke-width="1" fill="none"/>
<path d="M163.6 859.7V868.4M173.3 859.7V868.4M212.2 859.7V868.4M231.7 859.7V868.4M241.4 859.7V868.4M280.3 859.7V868.4M299.8 859.7V868.4M309.5 859.7V868.4M348.4 859.7V868.4" stroke="#b4b4a8" stroke-width="1" fill="none"/>
<path d="M163.6 849.8v10.2M173.3 849.8v10.2M192.8 849.8v10.2M202.5 849.8v10.2M212.2 849.8v10.2M231.7 849.8v10.2M241.4 849.8v10.2M260.9 849.8v10.2M270.6 849.8v10.2M280.3 849.8v10.2M299.8 849.8v10.2M309.5 849.8v10.2M329 849.8v10.2M338.7 849.8v10.2M348.4 849.8v10.2" stroke="#000" stroke-width="5" fill="none"/>
<path d="M154 849.4H358.3" stroke="#777" stroke-width="1.3"/>
<path d="M154 868.4H358.3" stroke="#d0d0c8" stroke-width="1"/>
<path d="M182.5 849V869" stroke="#cecece" stroke-width="1"/>
<path d="M250.6 849V869" stroke="#cecece" stroke-width="1"/>
<path d="M318.7 849V869" stroke="#cecece" stroke-width="1"/>
<path d="M154 849V869" stroke="#383838" stroke-width="1.9"/>
<path d="M222.1 849V869" stroke="#383838" stroke-width="1.9"/>
<path d="M358.3 849V869" stroke="#383838" stroke-width="1.9"/>
<path d="M290.2 849V869" stroke="#e8423c" stroke-width="1.5"/>
<path d="M359 833Q381.5 860.5 358 888" stroke="#777" stroke-width="1.6" fill="none"/>
<path d="M209.5 881L277.5 966.5L286 1008.6" stroke="#787878" stroke-width="1.4" fill="none" stroke-linejoin="round"/>
<path d="M276.5 1088.5L355 1124" stroke="#787878" stroke-width="1.4" fill="none" stroke-linejoin="round"/>
<path d="M268 1124.5L337 1124.5" stroke="#888" stroke-width="1.1" fill="none" stroke-linejoin="round"/>
<path d="M287 1124L357.6 1169" stroke="#787878" stroke-width="1.4" fill="none" stroke-linejoin="round"/>
<path d="M268.5 1169.5L338.5 1169.5" stroke="#888" stroke-width="1.1" fill="none" stroke-linejoin="round"/>
<ellipse cx="346" cy="895" rx="10.4" ry="13.5" fill="#EC812C"/>
<text transform="translate(345.7 903) scale(1.12 1.62)" class="dg">6</text>
<path d="M335.2 909.8H356.2" stroke="#808080" stroke-width="2.9" stroke-linecap="round"/>
<ellipse cx="201.7" cy="895" rx="10.4" ry="13.5" fill="#48DEE6"/>
<text transform="translate(201.4 900) scale(1.12 1.60)" class="dg">5</text>
<ellipse cx="198.5" cy="904.8" rx="2.05" ry="2.8" fill="#fff"/>
<ellipse cx="204.5" cy="904.8" rx="2.05" ry="2.8" fill="#fff"/>
<path d="M190.9 909.8H211.9" stroke="#808080" stroke-width="2.9" stroke-linecap="round"/>
<ellipse cx="239" cy="945.7" rx="10.4" ry="13.5" fill="#6680F0"/>
<text transform="translate(238.7 950.7) scale(1.12 1.60)" class="dg">2</text>
<ellipse cx="238.7" cy="956.1" rx="2.05" ry="2.8" fill="#fff"/>
<path d="M228.2 960.5H249.2" stroke="#808080" stroke-width="2.9" stroke-linecap="round"/>
<ellipse cx="268.8" cy="980.7" rx="10.4" ry="13.5" fill="#6680F0"/>
<text transform="translate(268.5 985.7) scale(1.12 1.60)" class="dg">5</text>
<ellipse cx="268.5" cy="991.1" rx="2.05" ry="2.8" fill="#fff"/>
<path d="M258 995.5H279" stroke="#808080" stroke-width="2.9" stroke-linecap="round"/>
<path d="M337.5 965.4V1018.4" stroke="#808080" stroke-width="2.4"/>
<ellipse cx="337.8" cy="947.3" rx="10.4" ry="19.1" fill="#EC812C"/>
<text transform="translate(337.5 956.6) scale(1.15 2.19)" class="dg">5</text>
<ellipse cx="277.7" cy="1021.7" rx="10.4" ry="13.5" fill="#6680F0"/>
<text transform="translate(277.4 1026.7) scale(1.12 1.60)" class="dg">6</text>
<ellipse cx="277.4" cy="1032.1" rx="2.05" ry="2.8" fill="#fff"/>
<path d="M266.9 1036.5H287.9" stroke="#808080" stroke-width="2.9" stroke-linecap="round"/>
<path d="M279.2 1038.9V1045.5" stroke="#000" stroke-width="2.4" stroke-linecap="round"/>
<ellipse cx="279.4" cy="1061.2" rx="10.4" ry="16.7" fill="#6680F0"/>
<text transform="translate(279.1 1066.9) scale(1.12 2.09)" class="dg">6</text>
<ellipse cx="279.1" cy="1073.4" rx="2.05" ry="3.2" fill="#fff"/>
<ellipse cx="268.8" cy="1102.4" rx="10.4" ry="13.5" fill="#E7636E"/>
<text transform="translate(268.5 1107.4) scale(1.12 1.60)" class="dg">5</text>
<ellipse cx="268.5" cy="1112.8" rx="2.05" ry="2.8" fill="#fff"/>
<path d="M258 1117.2H279" stroke="#808080" stroke-width="2.9" stroke-linecap="round"/>
<ellipse cx="337.6" cy="1102.4" rx="10.4" ry="13.5" fill="#EC812C"/>
<text transform="translate(337.3 1110.4) scale(1.12 1.62)" class="dg">5</text>
<path d="M326.8 1117.2H347.8" stroke="#808080" stroke-width="2.9" stroke-linecap="round"/>
<ellipse cx="277.7" cy="1137.7" rx="10.4" ry="13.5" fill="#E7636E"/>
<text transform="translate(277.4 1142.7) scale(1.12 1.60)" class="dg">6</text>
<ellipse cx="277.4" cy="1148.1" rx="2.05" ry="2.8" fill="#fff"/>
<path d="M266.9 1152.5H287.9" stroke="#808080" stroke-width="2.9" stroke-linecap="round"/>
<ellipse cx="346" cy="1137.7" rx="10.4" ry="13.5" fill="#EC812C"/>
<text transform="translate(345.7 1145.7) scale(1.12 1.62)" class="dg">6</text>
<path d="M335.2 1152.5H356.2" stroke="#808080" stroke-width="2.9" stroke-linecap="round"/>
<path d="M279.2 1164.5V1171.1" stroke="#000" stroke-width="2.4" stroke-linecap="round"/>
<ellipse cx="279.4" cy="1183.6" rx="10.4" ry="13.5" fill="#E7636E"/>
<text transform="translate(279.1 1188.6) scale(1.12 1.60)" class="dg">6</text>
<ellipse cx="279.1" cy="1194" rx="2.05" ry="2.8" fill="#fff"/>
<path d="M268.6 1198.4H289.6" stroke="#808080" stroke-width="2.9" stroke-linecap="round"/>
<path d="M347.2 1164.5V1171.1" stroke="#000" stroke-width="2.4" stroke-linecap="round"/>
<ellipse cx="347.4" cy="1183.6" rx="10.4" ry="13.5" fill="#EC812C"/>
<text transform="translate(347.1 1191.6) scale(1.12 1.62)" class="dg">6</text>
<path d="M336.6 1198.4H357.6" stroke="#808080" stroke-width="2.9" stroke-linecap="round"/>
<ellipse cx="201.7" cy="1136.3" rx="10.4" ry="16.7" fill="#48DEE6"/>
<text transform="translate(201.4 1142) scale(1.12 2.09)" class="dg">5</text>
<ellipse cx="198.5" cy="1147.9" rx="2.05" ry="3.2" fill="#fff"/>
<ellipse cx="204.5" cy="1147.9" rx="2.05" ry="3.2" fill="#fff"/>
<path d="M141 1232L248.5 1282.5L289 1317" stroke="#787878" stroke-width="1.4" fill="none" stroke-linejoin="round"/>
<path d="M228 1353.5L259 1318L270 1318" stroke="#787878" stroke-width="1.4" fill="none" stroke-linejoin="round"/>
<path d="M315 1232L356 1283" stroke="#787878" stroke-width="1.4" fill="none" stroke-linejoin="round"/>
<path d="M315 1318.5L359 1352.5L386.5 1388" stroke="#787878" stroke-width="1.4" fill="none" stroke-linejoin="round"/>
<path d="M387 1395Q412.5 1408.5 386 1422" stroke="#777" stroke-width="1.6" fill="none"/>
<path d="M364 1414L338 1454L270 1454" stroke="#787878" stroke-width="1.4" fill="none" stroke-linejoin="round"/>
<path d="M141 1413.3L248.5 1454.7L284 1484" stroke="#787878" stroke-width="1.4" fill="none" stroke-linejoin="round"/>
<path d="M281 1454L375 1489" stroke="#787878" stroke-width="1.4" fill="none" stroke-linejoin="round"/>
<path d="M228 1524.5L259 1489L270 1489" stroke="#787878" stroke-width="1.4" fill="none" stroke-linejoin="round"/>
<path d="M308 1489.5L358 1489.5" stroke="#888" stroke-width="1.1" fill="none" stroke-linejoin="round"/>
<path d="M284 1483L385 1524" stroke="#787878" stroke-width="1.4" fill="none" stroke-linejoin="round"/>
<path d="M296 1524.5L366 1524.5" stroke="#888" stroke-width="1.1" fill="none" stroke-linejoin="round"/>
<ellipse cx="133.6" cy="1245.6" rx="10.4" ry="13.5" fill="#3EE28E"/>
<text transform="translate(133.3 1250.6) scale(1.12 1.60)" class="dg">5</text>
<ellipse cx="128.2" cy="1252.8" rx="2.05" ry="2.4" fill="#fff"/>
<ellipse cx="138.4" cy="1252.8" rx="2.05" ry="2.4" fill="#fff"/>
<ellipse cx="133.3" cy="1256.3" rx="2.05" ry="2.4" fill="#fff"/>
<path d="M122.8 1260.4H143.8" stroke="#808080" stroke-width="2.9" stroke-linecap="round"/>
<ellipse cx="201.7" cy="1245.6" rx="10.4" ry="13.5" fill="#48DEE6"/>
<text transform="translate(201.4 1250.6) scale(1.12 1.60)" class="dg">5</text>
<ellipse cx="198.5" cy="1255.4" rx="2.05" ry="2.8" fill="#fff"/>
<ellipse cx="204.5" cy="1255.4" rx="2.05" ry="2.8" fill="#fff"/>
<path d="M190.9 1260.4H211.9" stroke="#808080" stroke-width="2.9" stroke-linecap="round"/>
<ellipse cx="239" cy="1297" rx="10.4" ry="13.5" fill="#6680F0"/>
<text transform="translate(238.7 1302) scale(1.12 1.60)" class="dg">2</text>
<ellipse cx="238.7" cy="1307.4" rx="2.05" ry="2.8" fill="#fff"/>
<path d="M228.2 1311.8H249.2" stroke="#808080" stroke-width="2.9" stroke-linecap="round"/>
<path d="M279.2 1312.5V1319.1" stroke="#000" stroke-width="2.4" stroke-linecap="round"/>
<ellipse cx="279.4" cy="1331.6" rx="10.4" ry="13.5" fill="#6680F0"/>
<text transform="translate(279.1 1336.6) scale(1.12 1.60)" class="dg">6</text>
<ellipse cx="279.1" cy="1342" rx="2.05" ry="2.8" fill="#fff"/>
<path d="M268.6 1346.4H289.6" stroke="#808080" stroke-width="2.9" stroke-linecap="round"/>
<ellipse cx="269" cy="1331.6" rx="10.4" ry="13.5" fill="#6680F0"/>
<text transform="translate(268.7 1336.6) scale(1.12 1.60)" class="dg">5</text>
<ellipse cx="268.7" cy="1342" rx="2.05" ry="2.8" fill="#fff"/>
<path d="M258.2 1346.4H279.2" stroke="#808080" stroke-width="2.9" stroke-linecap="round"/>
<ellipse cx="239" cy="1366.8" rx="10.4" ry="13.5" fill="#6680F0"/>
<text transform="translate(238.7 1371.8) scale(1.12 1.60)" class="dg">2</text>
<ellipse cx="238.7" cy="1377.2" rx="2.05" ry="2.8" fill="#fff"/>
<path d="M228.2 1381.6H249.2" stroke="#808080" stroke-width="2.9" stroke-linecap="round"/>
<ellipse cx="307.2" cy="1245.6" rx="10.4" ry="13.5" fill="#EC812C"/>
<text transform="translate(306.9 1253.6) scale(1.12 1.62)" class="dg">2</text>
<path d="M296.4 1260.4H317.4" stroke="#808080" stroke-width="2.9" stroke-linecap="round"/>
<path d="M347 1277.9V1284.5" stroke="#000" stroke-width="2.4" stroke-linecap="round"/>
<ellipse cx="347.2" cy="1297" rx="10.4" ry="13.5" fill="#EC812C"/>
<text transform="translate(346.9 1305) scale(1.12 1.62)" class="dg">6</text>
<path d="M336.4 1311.8H357.4" stroke="#808080" stroke-width="2.9" stroke-linecap="round"/>
<ellipse cx="307.2" cy="1331.6" rx="10.4" ry="13.5" fill="#EC812C"/>
<text transform="translate(306.9 1339.6) scale(1.12 1.62)" class="dg">2</text>
<path d="M296.4 1346.4H317.4" stroke="#808080" stroke-width="2.9" stroke-linecap="round"/>
<path d="M350.6 1348V1354.6" stroke="#000" stroke-width="2.4" stroke-linecap="round"/>
<ellipse cx="350.8" cy="1362.4" rx="10.4" ry="8.8" fill="#EC812C"/>
<text transform="translate(350.5 1367.2) scale(1.2 1.02)" class="dg">6</text>
<path d="M339.8 1372.1H361.4M339.8 1374.6H361.4" stroke="#a2a2a2" stroke-width="1.5"/>
<ellipse cx="375.8" cy="1245.6" rx="10.4" ry="13.5" fill="#FF66FF"/>
<text transform="translate(375.5 1257.7) scale(1.12 1.53)" class="dg">2</text>
<ellipse cx="375.6" cy="1238.4" rx="1.9" ry="2.4" fill="#fff"/>
<path d="M365 1260.4H386" stroke="#808080" stroke-width="2.9" stroke-linecap="round"/>
<ellipse cx="375.8" cy="1331.6" rx="10.4" ry="13.5" fill="#FF66FF"/>
<text transform="translate(375.5 1343.7) scale(1.12 1.53)" class="dg">2</text>
<ellipse cx="375.6" cy="1324.4" rx="1.9" ry="2.4" fill="#fff"/>
<path d="M365 1346.4H386" stroke="#808080" stroke-width="2.9" stroke-linecap="round"/>
<ellipse cx="378" cy="1396.6" rx="10.4" ry="8.8" fill="#FF66FF"/>
<text transform="translate(377.7 1404.5) scale(1.2 0.92)" class="dg">2</text>
<ellipse cx="377.8" cy="1392.1" rx="1.9" ry="1.7" fill="#fff"/>
<path d="M367 1406.3H388.6M367 1408.8H388.6" stroke="#a2a2a2" stroke-width="1.5"/>
<ellipse cx="375.8" cy="1427.3" rx="10.4" ry="13.5" fill="#FF66FF"/>
<text transform="translate(375.5 1439.4) scale(1.12 1.53)" class="dg">2</text>
<ellipse cx="375.6" cy="1420.1" rx="1.9" ry="2.4" fill="#fff"/>
<path d="M365 1442.1H386" stroke="#808080" stroke-width="2.9" stroke-linecap="round"/>
<ellipse cx="133.6" cy="1427.3" rx="10.4" ry="13.5" fill="#3EE28E"/>
<text transform="translate(133.3 1432.3) scale(1.12 1.60)" class="dg">5</text>
<ellipse cx="128.2" cy="1434.5" rx="2.05" ry="2.4" fill="#fff"/>
<ellipse cx="138.4" cy="1434.5" rx="2.05" ry="2.4" fill="#fff"/>
<ellipse cx="133.3" cy="1438" rx="2.05" ry="2.4" fill="#fff"/>
<path d="M122.8 1442.1H143.8" stroke="#808080" stroke-width="2.9" stroke-linecap="round"/>
<ellipse cx="201.7" cy="1427.3" rx="10.4" ry="13.5" fill="#48DEE6"/>
<text transform="translate(201.4 1432.3) scale(1.12 1.60)" class="dg">5</text>
<ellipse cx="198.5" cy="1437.1" rx="2.05" ry="2.8" fill="#fff"/>
<ellipse cx="204.5" cy="1437.1" rx="2.05" ry="2.8" fill="#fff"/>
<path d="M190.9 1442.1H211.9" stroke="#808080" stroke-width="2.9" stroke-linecap="round"/>
<ellipse cx="239" cy="1467.6" rx="10.4" ry="13.5" fill="#6680F0"/>
<text transform="translate(238.7 1472.6) scale(1.12 1.60)" class="dg">2</text>
<ellipse cx="238.7" cy="1478" rx="2.05" ry="2.8" fill="#fff"/>
<path d="M228.2 1482.4H249.2" stroke="#808080" stroke-width="2.9" stroke-linecap="round"/>
<path d="M279 1448.5V1455.1" stroke="#000" stroke-width="2.4" stroke-linecap="round"/>
<ellipse cx="279.2" cy="1467.6" rx="10.4" ry="13.5" fill="#E7636E"/>
<text transform="translate(278.9 1472.6) scale(1.12 1.60)" class="dg">6</text>
<ellipse cx="278.9" cy="1478" rx="2.05" ry="2.8" fill="#fff"/>
<path d="M268.4 1482.4H289.4" stroke="#808080" stroke-width="2.9" stroke-linecap="round"/>
<path d="M347 1448.5V1455.1" stroke="#000" stroke-width="2.4" stroke-linecap="round"/>
<ellipse cx="347.2" cy="1467.6" rx="10.4" ry="13.5" fill="#EC812C"/>
<text transform="translate(346.9 1475.6) scale(1.12 1.62)" class="dg">6</text>
<path d="M336.4 1482.4H357.4" stroke="#808080" stroke-width="2.9" stroke-linecap="round"/>
<path d="M279.2 1483.9V1490.5" stroke="#000" stroke-width="2.4" stroke-linecap="round"/>
<ellipse cx="279.4" cy="1503" rx="10.4" ry="13.5" fill="#6680F0"/>
<text transform="translate(279.1 1508) scale(1.12 1.60)" class="dg">6</text>
<ellipse cx="279.1" cy="1513.4" rx="2.05" ry="2.8" fill="#fff"/>
<path d="M268.6 1517.8H289.6" stroke="#808080" stroke-width="2.9" stroke-linecap="round"/>
<ellipse cx="269" cy="1503" rx="10.4" ry="13.5" fill="#6680F0"/>
<text transform="translate(268.7 1508) scale(1.12 1.60)" class="dg">5</text>
<ellipse cx="268.7" cy="1513.4" rx="2.05" ry="2.8" fill="#fff"/>
<path d="M258.2 1517.8H279.2" stroke="#808080" stroke-width="2.9" stroke-linecap="round"/>
<ellipse cx="298.7" cy="1503" rx="10.4" ry="13.5" fill="#EC812C"/>
<text transform="translate(298.4 1511) scale(1.12 1.62)" class="dg">1</text>
<path d="M287.9 1517.8H308.9" stroke="#808080" stroke-width="2.9" stroke-linecap="round"/>
<ellipse cx="367" cy="1503" rx="10.4" ry="13.5" fill="#FF66FF"/>
<text transform="translate(366.7 1515.1) scale(1.12 1.53)" class="dg">1</text>
<ellipse cx="366.8" cy="1495.8" rx="1.9" ry="2.4" fill="#fff"/>
<path d="M356.2 1517.8H377.2" stroke="#808080" stroke-width="2.9" stroke-linecap="round"/>
<ellipse cx="239" cy="1537.5" rx="10.4" ry="13.5" fill="#6680F0"/>
<text transform="translate(238.7 1542.5) scale(1.12 1.60)" class="dg">2</text>
<ellipse cx="238.7" cy="1547.9" rx="2.05" ry="2.8" fill="#fff"/>
<path d="M228.2 1552.3H249.2" stroke="#808080" stroke-width="2.9" stroke-linecap="round"/>
<ellipse cx="307.2" cy="1537.5" rx="10.4" ry="13.5" fill="#EC812C"/>
<text transform="translate(306.9 1545.5) scale(1.12 1.62)" class="dg">2</text>
<path d="M296.4 1552.3H317.4" stroke="#808080" stroke-width="2.9" stroke-linecap="round"/>
<ellipse cx="375.8" cy="1537.5" rx="10.4" ry="13.5" fill="#FF66FF"/>
<text transform="translate(375.5 1549.6) scale(1.12 1.53)" class="dg">2</text>
<ellipse cx="375.6" cy="1530.3" rx="1.9" ry="2.4" fill="#fff"/>
<path d="M365 1552.3H386" stroke="#808080" stroke-width="2.9" stroke-linecap="round"/>
<path d="M510.2 39L588.5 125" stroke="#787878" stroke-width="1.4" fill="none" stroke-linejoin="round"/>
<path d="M531 166L569.7 125" stroke="#787878" stroke-width="1.4" fill="none" stroke-linejoin="round"/>
<path d="M689 166L728.6 201.5" stroke="#787878" stroke-width="1.4" fill="none" stroke-linejoin="round"/>
<path d="M670 201.5L709.5 201.5" stroke="#888" stroke-width="1.1" fill="none" stroke-linejoin="round"/>
<path d="M510.5 226L589 296.6" stroke="#787878" stroke-width="1.4" fill="none" stroke-linejoin="round"/>
<path d="M531 332L569.7 296.6" stroke="#787878" stroke-width="1.4" fill="none" stroke-linejoin="round"/>
<ellipse cx="503" cy="53" rx="10.4" ry="13.5" fill="#48DEE6"/>
<text transform="translate(502.7 58) scale(1.12 1.60)" class="dg">1</text>
<ellipse cx="499.8" cy="62.8" rx="2.05" ry="2.8" fill="#fff"/>
<ellipse cx="505.8" cy="62.8" rx="2.05" ry="2.8" fill="#fff"/>
<path d="M492.2 67.8H513.2" stroke="#808080" stroke-width="2.9" stroke-linecap="round"/>
<ellipse cx="542" cy="98" rx="10.4" ry="13.5" fill="#48DEE6"/>
<text transform="translate(541.7 103) scale(1.12 1.60)" class="dg">5</text>
<ellipse cx="538.8" cy="107.8" rx="2.05" ry="2.8" fill="#fff"/>
<ellipse cx="544.8" cy="107.8" rx="2.05" ry="2.8" fill="#fff"/>
<path d="M531.2 112.8H552.2" stroke="#808080" stroke-width="2.9" stroke-linecap="round"/>
<path d="M579.3 119.4V126" stroke="#000" stroke-width="2.4" stroke-linecap="round"/>
<ellipse cx="579.5" cy="138.5" rx="10.4" ry="13.5" fill="#6680F0"/>
<text transform="translate(579.2 143.5) scale(1.12 1.60)" class="dg">2</text>
<ellipse cx="579.2" cy="148.9" rx="2.05" ry="2.8" fill="#fff"/>
<path d="M568.7 153.3H589.7" stroke="#808080" stroke-width="2.9" stroke-linecap="round"/>
<ellipse cx="542" cy="180.5" rx="10.4" ry="13.5" fill="#48DEE6"/>
<text transform="translate(541.7 185.5) scale(1.12 1.60)" class="dg">5</text>
<ellipse cx="538.8" cy="190.3" rx="2.05" ry="2.8" fill="#fff"/>
<ellipse cx="544.8" cy="190.3" rx="2.05" ry="2.8" fill="#fff"/>
<path d="M531.2 195.3H552.2" stroke="#808080" stroke-width="2.9" stroke-linecap="round"/>
<ellipse cx="668.7" cy="52" rx="10.4" ry="16.7" fill="#EC812C"/>
<text transform="translate(668.4 61.2) scale(1.12 2.15)" class="dg">4</text>
<circle cx="668.5" cy="76" r="2.9" fill="#000080"/>
<ellipse cx="736.7" cy="52" rx="10.4" ry="16.7" fill="#FF66FF"/>
<text transform="translate(736.4 66) scale(1.12 1.88)" class="dg">4</text>
<ellipse cx="736.5" cy="42.3" rx="1.9" ry="2.6" fill="#fff"/>
<circle cx="736.5" cy="76" r="2.9" fill="#000080"/>
<ellipse cx="680.6" cy="175" rx="10.4" ry="8.8" fill="#EC812C"/>
<text transform="translate(680.3 179.8) scale(1.2 1.02)" class="dg">5</text>
<path d="M669.6 184.7H691.2M669.6 187.2H691.2" stroke="#a2a2a2" stroke-width="1.5"/>
<path d="M718.2 161.6V168.2" stroke="#000" stroke-width="2.4" stroke-linecap="round"/>
<ellipse cx="718.4" cy="176" rx="10.4" ry="8.8" fill="#FF66FF"/>
<text transform="translate(718.1 183.9) scale(1.2 0.92)" class="dg">2</text>
<ellipse cx="718.2" cy="171.5" rx="1.9" ry="1.7" fill="#fff"/>
<path d="M707.4 185.7H729M707.4 188.2H729" stroke="#a2a2a2" stroke-width="1.5"/>
<ellipse cx="680.6" cy="210.5" rx="10.4" ry="8.8" fill="#EC812C"/>
<text transform="translate(680.3 215.3) scale(1.2 1.02)" class="dg">5</text>
<path d="M669.6 220.2H691.2M669.6 222.7H691.2" stroke="#a2a2a2" stroke-width="1.5"/>
<path d="M718.2 196.6V203.2" stroke="#000" stroke-width="2.4" stroke-linecap="round"/>
<ellipse cx="718.4" cy="211" rx="10.4" ry="8.8" fill="#FF66FF"/>
<text transform="translate(718.1 218.9) scale(1.2 0.92)" class="dg">2</text>
<ellipse cx="718.2" cy="206.5" rx="1.9" ry="1.7" fill="#fff"/>
<path d="M707.4 220.7H729M707.4 223.2H729" stroke="#a2a2a2" stroke-width="1.5"/>
<path d="M678.2 259.8V313" stroke="#808080" stroke-width="2.4"/>
<ellipse cx="678.5" cy="241.7" rx="10.4" ry="19.1" fill="#EC812C"/>
<text transform="translate(678.2 251.1) scale(1.15 2.19)" class="dg">5</text>
<path d="M715 260V313" stroke="#808080" stroke-width="2.4"/>
<path d="M715.1 217.2V223.8" stroke="#000" stroke-width="2.4" stroke-linecap="round"/>
<ellipse cx="715.3" cy="241.9" rx="10.4" ry="19.1" fill="#FF66FF"/>
<text transform="translate(715 257.6) scale(1.15 2.08)" class="dg">2</text>
<ellipse cx="715.1" cy="230.7" rx="1.9" ry="3.4" fill="#fff"/>
<path d="M691.6 206.2L715.5 218.8" stroke="#666" stroke-width="1.8" fill="none" stroke-linejoin="round"/>
<path d="M698.2 214Q707.9 223.5 698 233" stroke="#777" stroke-width="1.6" fill="none"/>
<path d="M698 233L688.5 241" stroke="#787878" stroke-width="1.6" fill="none" stroke-linejoin="round"/>
<path d="M718 221Q733 231.2 726 241.5" stroke="#777" stroke-width="1.6" fill="none"/>
<ellipse cx="503" cy="239.8" rx="10.4" ry="13.5" fill="#48DEE6"/>
<text transform="translate(502.7 244.8) scale(1.12 1.60)" class="dg">1</text>
<ellipse cx="499.8" cy="249.6" rx="2.05" ry="2.8" fill="#fff"/>
<ellipse cx="505.8" cy="249.6" rx="2.05" ry="2.8" fill="#fff"/>
<path d="M492.2 254.6H513.2" stroke="#808080" stroke-width="2.9" stroke-linecap="round"/>
<ellipse cx="542" cy="274.7" rx="10.4" ry="13.5" fill="#48DEE6"/>
<text transform="translate(541.7 279.7) scale(1.12 1.60)" class="dg">5</text>
<ellipse cx="538.8" cy="284.5" rx="2.05" ry="2.8" fill="#fff"/>
<ellipse cx="544.8" cy="284.5" rx="2.05" ry="2.8" fill="#fff"/>
<path d="M531.2 289.5H552.2" stroke="#808080" stroke-width="2.9" stroke-linecap="round"/>
<path d="M579.3 291.2V297.8" stroke="#000" stroke-width="2.4" stroke-linecap="round"/>
<ellipse cx="579.5" cy="310.3" rx="10.4" ry="13.5" fill="#6680F0"/>
<text transform="translate(579.2 315.3) scale(1.12 1.60)" class="dg">2</text>
<ellipse cx="579.2" cy="320.7" rx="2.05" ry="2.8" fill="#fff"/>
<path d="M568.7 325.1H589.7" stroke="#808080" stroke-width="2.9" stroke-linecap="round"/>
<ellipse cx="542" cy="344.8" rx="10.4" ry="13.5" fill="#48DEE6"/>
<text transform="translate(541.7 349.8) scale(1.12 1.60)" class="dg">5</text>
<ellipse cx="538.8" cy="354.6" rx="2.05" ry="2.8" fill="#fff"/>
<ellipse cx="544.8" cy="354.6" rx="2.05" ry="2.8" fill="#fff"/>
<path d="M531.2 359.6H552.2" stroke="#808080" stroke-width="2.9" stroke-linecap="round"/>
<path d="M539.5 393.6L609 486" stroke="#787878" stroke-width="1.4" fill="none" stroke-linejoin="round"/>
<path d="M562 518.5L590 486" stroke="#787878" stroke-width="1.4" fill="none" stroke-linejoin="round"/>
<path d="M676 393.6L696.6 445" stroke="#787878" stroke-width="1.4" fill="none" stroke-linejoin="round"/>
<path d="M676 486L670 525L661 555" stroke="#787878" stroke-width="1.4" fill="none" stroke-linejoin="round"/>
<path d="M682 561Q706.3 576 679 591" stroke="#777" stroke-width="1.6" fill="none"/>
<path d="M658.6 580L658.6 616" stroke="#787878" stroke-width="1.4" fill="none" stroke-linejoin="round"/>
<path d="M676 616L694.6 686" stroke="#787878" stroke-width="1.4" fill="none" stroke-linejoin="round"/>
<path d="M539.5 580.5L582 616L609 651" stroke="#787878" stroke-width="1.4" fill="none" stroke-linejoin="round"/>
<path d="M562 683L590 651" stroke="#787878" stroke-width="1.4" fill="none" stroke-linejoin="round"/>
<ellipse cx="532" cy="407.6" rx="10.4" ry="13.5" fill="#48DEE6"/>
<text transform="translate(531.7 412.6) scale(1.12 1.60)" class="dg">4</text>
<ellipse cx="528.8" cy="417.4" rx="2.05" ry="2.8" fill="#fff"/>
<ellipse cx="534.8" cy="417.4" rx="2.05" ry="2.8" fill="#fff"/>
<path d="M521.2 422.4H542.2" stroke="#808080" stroke-width="2.9" stroke-linecap="round"/>
<ellipse cx="571" cy="458.3" rx="10.4" ry="13.5" fill="#6680F0"/>
<text transform="translate(570.7 463.3) scale(1.12 1.60)" class="dg">1</text>
<ellipse cx="570.7" cy="468.7" rx="2.05" ry="2.8" fill="#fff"/>
<path d="M560.2 473.1H581.2" stroke="#808080" stroke-width="2.9" stroke-linecap="round"/>
<ellipse cx="600.6" cy="499" rx="10.4" ry="13.5" fill="#6680F0"/>
<text transform="translate(600.3 504) scale(1.12 1.60)" class="dg">4</text>
<ellipse cx="600.3" cy="509.4" rx="2.05" ry="2.8" fill="#fff"/>
<path d="M589.8 513.8H610.8" stroke="#808080" stroke-width="2.9" stroke-linecap="round"/>
<ellipse cx="571" cy="534.2" rx="10.4" ry="13.5" fill="#6680F0"/>
<text transform="translate(570.7 539.2) scale(1.12 1.60)" class="dg">1</text>
<ellipse cx="570.7" cy="544.6" rx="2.05" ry="2.8" fill="#fff"/>
<path d="M560.2 549H581.2" stroke="#808080" stroke-width="2.9" stroke-linecap="round"/>
<ellipse cx="668.4" cy="407.6" rx="10.4" ry="13.5" fill="#EC812C"/>
<text transform="translate(668.1 415.6) scale(1.12 1.62)" class="dg">4</text>
<path d="M657.6 422.4H678.6" stroke="#808080" stroke-width="2.9" stroke-linecap="round"/>
<ellipse cx="707.6" cy="407.6" rx="10.4" ry="13.5" fill="#FF66FF"/>
<text transform="translate(707.3 419.7) scale(1.12 1.53)" class="dg">1</text>
<ellipse cx="707.4" cy="400.4" rx="1.9" ry="2.4" fill="#fff"/>
<path d="M696.8 422.4H717.8" stroke="#808080" stroke-width="2.9" stroke-linecap="round"/>
<path d="M688 439.4V446" stroke="#000" stroke-width="2.4" stroke-linecap="round"/>
<ellipse cx="688.2" cy="458.5" rx="10.4" ry="13.5" fill="#EC812C"/>
<text transform="translate(687.9 466.5) scale(1.12 1.62)" class="dg">6</text>
<path d="M677.4 473.3H698.4" stroke="#808080" stroke-width="2.9" stroke-linecap="round"/>
<ellipse cx="686.2" cy="499" rx="10.4" ry="13.5" fill="#EC812C"/>
<text transform="translate(685.9 507) scale(1.12 1.62)" class="dg">6</text>
<path d="M675.4 513.8H696.4" stroke="#808080" stroke-width="2.9" stroke-linecap="round"/>
<ellipse cx="680.6" cy="529.2" rx="10.4" ry="8.8" fill="#EC812C"/>
<text transform="translate(680.3 534) scale(1.2 1.02)" class="dg">5</text>
<path d="M669.6 538.9H691.2M669.6 541.4H691.2" stroke="#a2a2a2" stroke-width="1.5"/>
<ellipse cx="671.8" cy="564.3" rx="10.4" ry="8.8" fill="#EC812C"/>
<text transform="translate(671.5 569.1) scale(1.2 1.02)" class="dg">4</text>
<path d="M660.8 574H682.4M660.8 576.5H682.4" stroke="#a2a2a2" stroke-width="1.5"/>
<ellipse cx="668.6" cy="595" rx="10.4" ry="13.5" fill="#EC812C"/>
<text transform="translate(668.3 603) scale(1.12 1.62)" class="dg">4</text>
<path d="M657.8 609.8H678.8" stroke="#808080" stroke-width="2.9" stroke-linecap="round"/>
<ellipse cx="668.6" cy="629.8" rx="10.4" ry="13.5" fill="#EC812C"/>
<text transform="translate(668.3 637.8) scale(1.12 1.62)" class="dg">4</text>
<path d="M657.8 644.6H678.8" stroke="#808080" stroke-width="2.9" stroke-linecap="round"/>
<ellipse cx="678" cy="664.7" rx="10.4" ry="13.5" fill="#EC812C"/>
<text transform="translate(677.7 672.7) scale(1.12 1.62)" class="dg">5</text>
<path d="M667.2 679.5H688.2" stroke="#808080" stroke-width="2.9" stroke-linecap="round"/>
<ellipse cx="686.2" cy="700" rx="10.4" ry="13.5" fill="#EC812C"/>
<text transform="translate(685.9 708) scale(1.12 1.62)" class="dg">6</text>
<path d="M675.4 714.8H696.4" stroke="#808080" stroke-width="2.9" stroke-linecap="round"/>
<ellipse cx="532" cy="594.5" rx="10.4" ry="13.5" fill="#48DEE6"/>
<text transform="translate(531.7 599.5) scale(1.12 1.60)" class="dg">4</text>
<ellipse cx="528.8" cy="604.3" rx="2.05" ry="2.8" fill="#fff"/>
<ellipse cx="534.8" cy="604.3" rx="2.05" ry="2.8" fill="#fff"/>
<path d="M521.2 609.3H542.2" stroke="#808080" stroke-width="2.9" stroke-linecap="round"/>
<ellipse cx="571" cy="629.8" rx="10.4" ry="13.5" fill="#6680F0"/>
<text transform="translate(570.7 634.8) scale(1.12 1.60)" class="dg">1</text>
<ellipse cx="570.7" cy="640.2" rx="2.05" ry="2.8" fill="#fff"/>
<path d="M560.2 644.6H581.2" stroke="#808080" stroke-width="2.9" stroke-linecap="round"/>
<ellipse cx="600.6" cy="664.7" rx="10.4" ry="13.5" fill="#6680F0"/>
<text transform="translate(600.3 669.7) scale(1.12 1.60)" class="dg">4</text>
<ellipse cx="600.3" cy="675.1" rx="2.05" ry="2.8" fill="#fff"/>
<path d="M589.8 679.5H610.8" stroke="#808080" stroke-width="2.9" stroke-linecap="round"/>
<ellipse cx="571" cy="700" rx="10.4" ry="13.5" fill="#6680F0"/>
<text transform="translate(570.7 705) scale(1.12 1.60)" class="dg">1</text>
<ellipse cx="570.7" cy="710.4" rx="2.05" ry="2.8" fill="#fff"/>
<path d="M560.2 714.8H581.2" stroke="#808080" stroke-width="2.9" stroke-linecap="round"/>
<path d="M491 754L541 799L562 841" stroke="#787878" stroke-width="1.4" fill="none" stroke-linejoin="round"/>
<path d="M521.6 875L542.5 840.5" stroke="#787878" stroke-width="1.4" fill="none" stroke-linejoin="round"/>
<path d="M676 840L718 875.7L727 911" stroke="#787878" stroke-width="1.4" fill="none" stroke-linejoin="round"/>
<path d="M728 916Q754 930 726 944" stroke="#777" stroke-width="1.6" fill="none"/>
<path d="M519.5 935.4L610.5 1017" stroke="#787878" stroke-width="1.4" fill="none" stroke-linejoin="round"/>
<path d="M704.5 936L638 976" stroke="#787878" stroke-width="1.4" fill="none" stroke-linejoin="round"/>
<path d="M656.5 976L686 1016.7L694.5 1052" stroke="#787878" stroke-width="1.4" fill="none" stroke-linejoin="round"/>
<path d="M539 1052L592 1016.7" stroke="#787878" stroke-width="1.4" fill="none" stroke-linejoin="round"/>
<path d="M483 748.9V755.5" stroke="#000" stroke-width="2.4" stroke-linecap="round"/>
<ellipse cx="483.2" cy="768" rx="10.4" ry="13.5" fill="#3EE28E"/>
<text transform="translate(482.9 773) scale(1.12 1.60)" class="dg">6</text>
<ellipse cx="477.8" cy="775.2" rx="2.05" ry="2.4" fill="#fff"/>
<ellipse cx="488" cy="775.2" rx="2.05" ry="2.4" fill="#fff"/>
<ellipse cx="482.9" cy="778.7" rx="2.05" ry="2.4" fill="#fff"/>
<path d="M472.4 782.8H493.4" stroke="#808080" stroke-width="2.9" stroke-linecap="round"/>
<ellipse cx="531.8" cy="813" rx="10.4" ry="13.5" fill="#48DEE6"/>
<text transform="translate(531.5 818) scale(1.12 1.60)" class="dg">4</text>
<ellipse cx="528.6" cy="822.8" rx="2.05" ry="2.8" fill="#fff"/>
<ellipse cx="534.6" cy="822.8" rx="2.05" ry="2.8" fill="#fff"/>
<path d="M521 827.8H542" stroke="#808080" stroke-width="2.9" stroke-linecap="round"/>
<path d="M551.3 834.3V840.9" stroke="#000" stroke-width="2.4" stroke-linecap="round"/>
<ellipse cx="551.5" cy="853.4" rx="10.4" ry="13.5" fill="#48DEE6"/>
<text transform="translate(551.2 858.4) scale(1.12 1.60)" class="dg">6</text>
<ellipse cx="548.3" cy="863.2" rx="2.05" ry="2.8" fill="#fff"/>
<ellipse cx="554.3" cy="863.2" rx="2.05" ry="2.8" fill="#fff"/>
<path d="M540.7 868.2H561.7" stroke="#808080" stroke-width="2.9" stroke-linecap="round"/>
<ellipse cx="531.8" cy="888.5" rx="10.4" ry="13.5" fill="#48DEE6"/>
<text transform="translate(531.5 893.5) scale(1.12 1.60)" class="dg">4</text>
<ellipse cx="528.6" cy="898.3" rx="2.05" ry="2.8" fill="#fff"/>
<ellipse cx="534.6" cy="898.3" rx="2.05" ry="2.8" fill="#fff"/>
<path d="M521 903.3H542" stroke="#808080" stroke-width="2.9" stroke-linecap="round"/>
<ellipse cx="511.4" cy="948.7" rx="10.4" ry="13.5" fill="#48DEE6"/>
<text transform="translate(511.1 953.7) scale(1.12 1.60)" class="dg">2</text>
<ellipse cx="508.2" cy="958.5" rx="2.05" ry="2.8" fill="#fff"/>
<ellipse cx="514.2" cy="958.5" rx="2.05" ry="2.8" fill="#fff"/>
<path d="M500.6 963.5H521.6" stroke="#808080" stroke-width="2.9" stroke-linecap="round"/>
<ellipse cx="686.6" cy="766.8" rx="10.4" ry="16.7" fill="#EC812C"/>
<text transform="translate(686.3 776) scale(1.12 2.15)" class="dg">6</text>
<path d="M715.6 744.5V751.1" stroke="#000" stroke-width="2.4" stroke-linecap="round"/>
<ellipse cx="715.8" cy="766.8" rx="10.4" ry="16.7" fill="#FF66FF"/>
<text transform="translate(715.5 780.8) scale(1.12 1.88)" class="dg">2</text>
<ellipse cx="715.6" cy="757.1" rx="1.9" ry="2.6" fill="#fff"/>
<ellipse cx="668.6" cy="853.2" rx="10.4" ry="13.5" fill="#EC812C"/>
<text transform="translate(668.3 861.2) scale(1.12 1.62)" class="dg">4</text>
<path d="M657.8 868H678.8" stroke="#808080" stroke-width="2.9" stroke-linecap="round"/>
<ellipse cx="715.8" cy="853.2" rx="10.4" ry="13.5" fill="#FF66FF"/>
<text transform="translate(715.5 865.3) scale(1.12 1.53)" class="dg">2</text>
<ellipse cx="715.6" cy="846" rx="1.9" ry="2.4" fill="#fff"/>
<path d="M705 868H726" stroke="#808080" stroke-width="2.9" stroke-linecap="round"/>
<ellipse cx="710.6" cy="884.3" rx="10.4" ry="8.8" fill="#FF66FF"/>
<text transform="translate(710.3 892.2) scale(1.2 0.92)" class="dg">1</text>
<ellipse cx="710.4" cy="879.8" rx="1.9" ry="1.7" fill="#fff"/>
<path d="M699.6 894H721.2M699.6 896.5H721.2" stroke="#a2a2a2" stroke-width="1.5"/>
<ellipse cx="718.5" cy="919.2" rx="10.4" ry="8.8" fill="#FF66FF"/>
<text transform="translate(718.2 927.1) scale(1.2 0.92)" class="dg">2</text>
<ellipse cx="718.3" cy="914.7" rx="1.9" ry="1.7" fill="#fff"/>
<path d="M707.5 928.9H729.1M707.5 931.4H729.1" stroke="#a2a2a2" stroke-width="1.5"/>
<ellipse cx="715.8" cy="949.4" rx="10.4" ry="13.5" fill="#FF66FF"/>
<text transform="translate(715.5 961.5) scale(1.12 1.53)" class="dg">2</text>
<ellipse cx="715.6" cy="942.2" rx="1.9" ry="2.4" fill="#fff"/>
<path d="M705 964.2H726" stroke="#808080" stroke-width="2.9" stroke-linecap="round"/>
<ellipse cx="550.6" cy="990.3" rx="10.4" ry="13.5" fill="#48DEE6"/>
<text transform="translate(550.3 995.3) scale(1.12 1.60)" class="dg">6</text>
<ellipse cx="547.4" cy="1000.1" rx="2.05" ry="2.8" fill="#fff"/>
<ellipse cx="553.4" cy="1000.1" rx="2.05" ry="2.8" fill="#fff"/>
<path d="M539.8 1005.1H560.8" stroke="#808080" stroke-width="2.9" stroke-linecap="round"/>
<ellipse cx="647.5" cy="990.3" rx="10.4" ry="13.5" fill="#EC812C"/>
<text transform="translate(647.2 998.3) scale(1.12 1.62)" class="dg">2</text>
<path d="M636.7 1005.1H657.7" stroke="#808080" stroke-width="2.9" stroke-linecap="round"/>
<path d="M601.8 1011.1V1017.7" stroke="#000" stroke-width="2.4" stroke-linecap="round"/>
<ellipse cx="602" cy="1030.2" rx="10.4" ry="13.5" fill="#6680F0"/>
<text transform="translate(601.7 1035.2) scale(1.12 1.60)" class="dg">4</text>
<ellipse cx="601.7" cy="1040.6" rx="2.05" ry="2.8" fill="#fff"/>
<path d="M591.2 1045H612.2" stroke="#808080" stroke-width="2.9" stroke-linecap="round"/>
<ellipse cx="677.7" cy="1030.2" rx="10.4" ry="13.5" fill="#EC812C"/>
<text transform="translate(677.4 1038.2) scale(1.12 1.62)" class="dg">5</text>
<path d="M666.9 1045H687.9" stroke="#808080" stroke-width="2.9" stroke-linecap="round"/>
<ellipse cx="550.6" cy="1066" rx="10.4" ry="13.5" fill="#48DEE6"/>
<text transform="translate(550.3 1071) scale(1.12 1.60)" class="dg">6</text>
<ellipse cx="547.4" cy="1075.8" rx="2.05" ry="2.8" fill="#fff"/>
<ellipse cx="553.4" cy="1075.8" rx="2.05" ry="2.8" fill="#fff"/>
<path d="M539.8 1080.8H560.8" stroke="#808080" stroke-width="2.9" stroke-linecap="round"/>
<ellipse cx="686.5" cy="1066" rx="10.4" ry="13.5" fill="#EC812C"/>
<text transform="translate(686.2 1074) scale(1.12 1.62)" class="dg">6</text>
<path d="M675.7 1080.8H696.7" stroke="#808080" stroke-width="2.9" stroke-linecap="round"/>
<path d="M549.5 1119.5L630 1210" stroke="#787878" stroke-width="1.4" fill="none" stroke-linejoin="round"/>
<path d="M655 1119.5L695 1171" stroke="#787878" stroke-width="1.4" fill="none" stroke-linejoin="round"/>
<path d="M628 1171.5L677.5 1171.5" stroke="#888" stroke-width="1.1" fill="none" stroke-linejoin="round"/>
<path d="M649.5 1171L699 1209" stroke="#787878" stroke-width="1.4" fill="none" stroke-linejoin="round"/>
<path d="M568.5 1252L611 1212" stroke="#787878" stroke-width="1.4" fill="none" stroke-linejoin="round"/>
<path d="M637.6 1212.5L679 1212.5" stroke="#888" stroke-width="1.1" fill="none" stroke-linejoin="round"/>
<path d="M657 1211.5L696 1252" stroke="#787878" stroke-width="1.4" fill="none" stroke-linejoin="round"/>
<path d="M628 1252.5L677.5 1252.5" stroke="#888" stroke-width="1.1" fill="none" stroke-linejoin="round"/>
<path d="M649.5 1263Q675.2 1279.5 648 1296" stroke="#777" stroke-width="1.6" fill="none"/>
<path d="M549.5 1287L630 1358" stroke="#787878" stroke-width="1.4" fill="none" stroke-linejoin="round"/>
<path d="M646.5 1287.5L684 1319L696 1356L696.5 1397" stroke="#787878" stroke-width="1.4" fill="none" stroke-linejoin="round"/>
<path d="M568.5 1397L611 1357.5" stroke="#787878" stroke-width="1.4" fill="none" stroke-linejoin="round"/>
<ellipse cx="541.7" cy="1133.6" rx="10.4" ry="13.5" fill="#48DEE6"/>
<text transform="translate(541.4 1138.6) scale(1.12 1.60)" class="dg">5</text>
<ellipse cx="538.5" cy="1143.4" rx="2.05" ry="2.8" fill="#fff"/>
<ellipse cx="544.5" cy="1143.4" rx="2.05" ry="2.8" fill="#fff"/>
<path d="M530.9 1148.4H551.9" stroke="#808080" stroke-width="2.9" stroke-linecap="round"/>
<ellipse cx="647.5" cy="1133.6" rx="10.4" ry="13.5" fill="#EC812C"/>
<text transform="translate(647.2 1141.6) scale(1.12 1.62)" class="dg">2</text>
<path d="M636.7 1148.4H657.7" stroke="#808080" stroke-width="2.9" stroke-linecap="round"/>
<path d="M688 1114.5V1121.1" stroke="#000" stroke-width="2.4" stroke-linecap="round"/>
<ellipse cx="688.2" cy="1133.6" rx="10.4" ry="13.5" fill="#EC812C"/>
<text transform="translate(687.9 1141.6) scale(1.12 1.62)" class="dg">6</text>
<path d="M677.4 1148.4H698.4" stroke="#808080" stroke-width="2.9" stroke-linecap="round"/>
<ellipse cx="580" cy="1184.6" rx="10.4" ry="13.5" fill="#6680F0"/>
<text transform="translate(579.7 1189.6) scale(1.12 1.60)" class="dg">2</text>
<ellipse cx="579.7" cy="1195" rx="2.05" ry="2.8" fill="#fff"/>
<path d="M569.2 1199.4H590.2" stroke="#808080" stroke-width="2.9" stroke-linecap="round"/>
<ellipse cx="638.8" cy="1184.6" rx="10.4" ry="13.5" fill="#EC812C"/>
<text transform="translate(638.5 1192.6) scale(1.12 1.62)" class="dg">1</text>
<path d="M628 1199.4H649" stroke="#808080" stroke-width="2.9" stroke-linecap="round"/>
<ellipse cx="686.6" cy="1184.6" rx="10.4" ry="13.5" fill="#EC812C"/>
<text transform="translate(686.3 1192.6) scale(1.12 1.62)" class="dg">6</text>
<path d="M675.8 1199.4H696.8" stroke="#808080" stroke-width="2.9" stroke-linecap="round"/>
<path d="M619.6 1206.3V1212.9" stroke="#000" stroke-width="2.4" stroke-linecap="round"/>
<ellipse cx="619.8" cy="1225.4" rx="10.4" ry="13.5" fill="#6680F0"/>
<text transform="translate(619.5 1230.4) scale(1.12 1.60)" class="dg">6</text>
<ellipse cx="619.5" cy="1235.8" rx="2.05" ry="2.8" fill="#fff"/>
<path d="M609 1240.2H630" stroke="#808080" stroke-width="2.9" stroke-linecap="round"/>
<ellipse cx="647.5" cy="1225.4" rx="10.4" ry="13.5" fill="#EC812C"/>
<text transform="translate(647.2 1233.4) scale(1.12 1.62)" class="dg">2</text>
<path d="M636.7 1240.2H657.7" stroke="#808080" stroke-width="2.9" stroke-linecap="round"/>
<path d="M688 1206.3V1212.9" stroke="#000" stroke-width="2.4" stroke-linecap="round"/>
<ellipse cx="688.2" cy="1225.4" rx="10.4" ry="13.5" fill="#EC812C"/>
<text transform="translate(687.9 1233.4) scale(1.12 1.62)" class="dg">6</text>
<path d="M677.4 1240.2H698.4" stroke="#808080" stroke-width="2.9" stroke-linecap="round"/>
<ellipse cx="580" cy="1266.2" rx="10.4" ry="13.5" fill="#6680F0"/>
<text transform="translate(579.7 1271.2) scale(1.12 1.60)" class="dg">2</text>
<ellipse cx="579.7" cy="1276.6" rx="2.05" ry="2.8" fill="#fff"/>
<path d="M569.2 1281H590.2" stroke="#808080" stroke-width="2.9" stroke-linecap="round"/>
<ellipse cx="638.8" cy="1266.2" rx="10.4" ry="13.5" fill="#EC812C"/>
<text transform="translate(638.5 1274.2) scale(1.12 1.62)" class="dg">1</text>
<path d="M628 1281H649" stroke="#808080" stroke-width="2.9" stroke-linecap="round"/>
<ellipse cx="686.6" cy="1266.2" rx="10.4" ry="13.5" fill="#EC812C"/>
<text transform="translate(686.3 1274.2) scale(1.12 1.62)" class="dg">6</text>
<path d="M675.8 1281H696.8" stroke="#808080" stroke-width="2.9" stroke-linecap="round"/>
<ellipse cx="541.7" cy="1301" rx="10.4" ry="13.5" fill="#48DEE6"/>
<text transform="translate(541.4 1306) scale(1.12 1.60)" class="dg">5</text>
<ellipse cx="538.5" cy="1310.8" rx="2.05" ry="2.8" fill="#fff"/>
<ellipse cx="544.5" cy="1310.8" rx="2.05" ry="2.8" fill="#fff"/>
<path d="M530.9 1315.8H551.9" stroke="#808080" stroke-width="2.9" stroke-linecap="round"/>
<ellipse cx="638.8" cy="1301" rx="10.4" ry="13.5" fill="#EC812C"/>
<text transform="translate(638.5 1309) scale(1.12 1.62)" class="dg">1</text>
<path d="M628 1315.8H649" stroke="#808080" stroke-width="2.9" stroke-linecap="round"/>
<ellipse cx="686.6" cy="1301" rx="10.4" ry="13.5" fill="#EC812C"/>
<text transform="translate(686.3 1309) scale(1.12 1.62)" class="dg">6</text>
<path d="M675.8 1315.8H696.8" stroke="#808080" stroke-width="2.9" stroke-linecap="round"/>
<ellipse cx="580" cy="1335.8" rx="10.4" ry="13.5" fill="#6680F0"/>
<text transform="translate(579.7 1340.8) scale(1.12 1.60)" class="dg">2</text>
<ellipse cx="579.7" cy="1346.2" rx="2.05" ry="2.8" fill="#fff"/>
<path d="M569.2 1350.6H590.2" stroke="#808080" stroke-width="2.9" stroke-linecap="round"/>
<ellipse cx="677.7" cy="1335.8" rx="10.4" ry="13.5" fill="#EC812C"/>
<text transform="translate(677.4 1343.8) scale(1.12 1.62)" class="dg">5</text>
<path d="M666.9 1350.6H687.9" stroke="#808080" stroke-width="2.9" stroke-linecap="round"/>
<path d="M619.6 1352.1V1358.7" stroke="#000" stroke-width="2.4" stroke-linecap="round"/>
<ellipse cx="619.8" cy="1371.2" rx="10.4" ry="13.5" fill="#6680F0"/>
<text transform="translate(619.5 1376.2) scale(1.12 1.60)" class="dg">6</text>
<ellipse cx="619.5" cy="1381.6" rx="2.05" ry="2.8" fill="#fff"/>
<path d="M609 1386H630" stroke="#808080" stroke-width="2.9" stroke-linecap="round"/>
<ellipse cx="686.6" cy="1371.2" rx="10.4" ry="13.5" fill="#EC812C"/>
<text transform="translate(686.3 1379.2) scale(1.12 1.62)" class="dg">6</text>
<path d="M675.8 1386H696.8" stroke="#808080" stroke-width="2.9" stroke-linecap="round"/>
<ellipse cx="580" cy="1412" rx="10.4" ry="13.5" fill="#6680F0"/>
<text transform="translate(579.7 1417) scale(1.12 1.60)" class="dg">2</text>
<ellipse cx="579.7" cy="1422.4" rx="2.05" ry="2.8" fill="#fff"/>
<path d="M569.2 1426.8H590.2" stroke="#808080" stroke-width="2.9" stroke-linecap="round"/>
<path d="M688 1392.9V1399.5" stroke="#000" stroke-width="2.4" stroke-linecap="round"/>
<ellipse cx="688.2" cy="1412" rx="10.4" ry="13.5" fill="#EC812C"/>
<text transform="translate(687.9 1420) scale(1.12 1.62)" class="dg">6</text>
<path d="M677.4 1426.8H698.4" stroke="#808080" stroke-width="2.9" stroke-linecap="round"/>
<path d="M860 42L901 93" stroke="#787878" stroke-width="1.4" fill="none" stroke-linejoin="round"/>
<path d="M851 179.5L891 215" stroke="#787878" stroke-width="1.4" fill="none" stroke-linejoin="round"/>
<path d="M966.5 179.5L1039 252.5" stroke="#787878" stroke-width="1.4" fill="none" stroke-linejoin="round"/>
<path d="M953 255.5L1023 255.5" stroke="#888" stroke-width="1.1" fill="none" stroke-linejoin="round"/>
<path d="M968 281.5L1065 326.5" stroke="#787878" stroke-width="1.4" fill="none" stroke-linejoin="round"/>
<path d="M977 326.5L1047.5 326.5" stroke="#888" stroke-width="1.1" fill="none" stroke-linejoin="round"/>
<path d="M851.5 36.1V42.7" stroke="#000" stroke-width="2.4" stroke-linecap="round"/>
<ellipse cx="851.7" cy="55.2" rx="10.4" ry="13.5" fill="#48DEE6"/>
<text transform="translate(851.4 60.2) scale(1.12 1.60)" class="dg">2</text>
<ellipse cx="848.5" cy="65" rx="2.05" ry="2.8" fill="#fff"/>
<ellipse cx="854.5" cy="65" rx="2.05" ry="2.8" fill="#fff"/>
<path d="M840.9 70H861.9" stroke="#808080" stroke-width="2.9" stroke-linecap="round"/>
<path d="M892 87.8V94.4" stroke="#000" stroke-width="2.4" stroke-linecap="round"/>
<ellipse cx="892.2" cy="106.9" rx="10.4" ry="13.5" fill="#48DEE6"/>
<text transform="translate(891.9 111.9) scale(1.12 1.60)" class="dg">6</text>
<ellipse cx="889" cy="116.7" rx="2.05" ry="2.8" fill="#fff"/>
<ellipse cx="895" cy="116.7" rx="2.05" ry="2.8" fill="#fff"/>
<path d="M881.4 121.7H902.4" stroke="#808080" stroke-width="2.9" stroke-linecap="round"/>
<path d="M919.8 124.3V130.9" stroke="#000" stroke-width="2.4" stroke-linecap="round"/>
<ellipse cx="920" cy="146.6" rx="10.4" ry="16.7" fill="#6680F0"/>
<text transform="translate(919.7 152.2) scale(1.12 2.09)" class="dg">2</text>
<ellipse cx="919.7" cy="158.8" rx="2.05" ry="3.2" fill="#fff"/>
<path d="M958.5 75.5V128.5" stroke="#808080" stroke-width="2.4"/>
<ellipse cx="958.8" cy="57.4" rx="10.4" ry="19.1" fill="#E7636E"/>
<text transform="translate(958.5 62.5) scale(1.15 2.19)" class="dg">6</text>
<ellipse cx="958.5" cy="71.5" rx="2.05" ry="3.4" fill="#fff"/>
<path d="M1028.6 75.5V128.5" stroke="#808080" stroke-width="2.4"/>
<path d="M1028.7 32.7V39.3" stroke="#000" stroke-width="2.4" stroke-linecap="round"/>
<ellipse cx="1028.9" cy="57.4" rx="10.4" ry="19.1" fill="#EC812C"/>
<text transform="translate(1028.6 66.8) scale(1.15 2.19)" class="dg">6</text>
<ellipse cx="843.3" cy="193" rx="10.4" ry="13.5" fill="#48DEE6"/>
<text transform="translate(843 198) scale(1.12 1.60)" class="dg">1</text>
<ellipse cx="840.1" cy="202.8" rx="2.05" ry="2.8" fill="#fff"/>
<ellipse cx="846.1" cy="202.8" rx="2.05" ry="2.8" fill="#fff"/>
<path d="M832.5 207.8H853.5" stroke="#808080" stroke-width="2.9" stroke-linecap="round"/>
<ellipse cx="882.4" cy="227.8" rx="10.4" ry="13.5" fill="#48DEE6"/>
<text transform="translate(882.1 232.8) scale(1.12 1.60)" class="dg">5</text>
<ellipse cx="879.2" cy="237.6" rx="2.05" ry="2.8" fill="#fff"/>
<ellipse cx="885.2" cy="237.6" rx="2.05" ry="2.8" fill="#fff"/>
<path d="M871.6 242.6H892.6" stroke="#808080" stroke-width="2.9" stroke-linecap="round"/>
<ellipse cx="958.8" cy="193" rx="10.4" ry="13.5" fill="#E7636E"/>
<text transform="translate(958.5 198) scale(1.12 1.60)" class="dg">6</text>
<ellipse cx="958.5" cy="203.4" rx="2.05" ry="2.8" fill="#fff"/>
<path d="M948 207.8H969" stroke="#808080" stroke-width="2.9" stroke-linecap="round"/>
<circle cx="958.6" cy="210.7" r="2.9" fill="#000080"/>
<ellipse cx="1026.8" cy="193" rx="10.4" ry="13.5" fill="#EC812C"/>
<text transform="translate(1026.5 201) scale(1.12 1.62)" class="dg">6</text>
<path d="M1016 207.8H1037" stroke="#808080" stroke-width="2.9" stroke-linecap="round"/>
<circle cx="1026.6" cy="210.7" r="2.9" fill="#000080"/>
<path d="M963.4 250.2V256.8" stroke="#000" stroke-width="2.4" stroke-linecap="round"/>
<ellipse cx="963.6" cy="264.6" rx="10.4" ry="8.8" fill="#E7636E"/>
<text transform="translate(963.3 266.9) scale(1.2 0.92)" class="dg">6</text>
<ellipse cx="963.3" cy="271.4" rx="2.05" ry="1.8" fill="#fff"/>
<path d="M952.6 274.3H974.2M952.6 276.8H974.2" stroke="#a2a2a2" stroke-width="1.5"/>
<path d="M1031.8 250.2V256.8" stroke="#000" stroke-width="2.4" stroke-linecap="round"/>
<ellipse cx="1032" cy="264.6" rx="10.4" ry="8.8" fill="#EC812C"/>
<text transform="translate(1031.7 269.4) scale(1.2 1.02)" class="dg">6</text>
<path d="M1021 274.3H1042.6M1021 276.8H1042.6" stroke="#a2a2a2" stroke-width="1.5"/>
<path d="M919.8 271.2V277.8" stroke="#000" stroke-width="2.4" stroke-linecap="round"/>
<ellipse cx="920" cy="293.5" rx="10.4" ry="16.7" fill="#6680F0"/>
<text transform="translate(919.7 299.1) scale(1.12 2.09)" class="dg">2</text>
<ellipse cx="919.7" cy="305.7" rx="2.05" ry="3.2" fill="#fff"/>
<path d="M960.3 275.4V282" stroke="#000" stroke-width="2.4" stroke-linecap="round"/>
<ellipse cx="960.5" cy="294.5" rx="10.4" ry="13.5" fill="#E7636E"/>
<text transform="translate(960.2 299.5) scale(1.12 1.60)" class="dg">6</text>
<ellipse cx="960.2" cy="304.9" rx="2.05" ry="2.8" fill="#fff"/>
<path d="M949.7 309.3H970.7" stroke="#808080" stroke-width="2.9" stroke-linecap="round"/>
<path d="M1028.2 275.4V282" stroke="#000" stroke-width="2.4" stroke-linecap="round"/>
<ellipse cx="1028.4" cy="294.5" rx="10.4" ry="13.5" fill="#EC812C"/>
<text transform="translate(1028.1 302.5) scale(1.12 1.62)" class="dg">6</text>
<path d="M1017.6 309.3H1038.6" stroke="#808080" stroke-width="2.9" stroke-linecap="round"/>
<path d="M973.5 260Q998.7 274.8 971.5 289.5" stroke="#777" stroke-width="1.6" fill="none"/>
<path d="M987.6 321.1V327.7" stroke="#000" stroke-width="2.4" stroke-linecap="round"/>
<ellipse cx="987.8" cy="340.2" rx="10.4" ry="13.5" fill="#EC812C"/>
<text transform="translate(987.5 348.2) scale(1.12 1.62)" class="dg">2</text>
<path d="M977 355H998" stroke="#808080" stroke-width="2.9" stroke-linecap="round"/>
<path d="M1055.8 321.1V327.7" stroke="#000" stroke-width="2.4" stroke-linecap="round"/>
<ellipse cx="1056" cy="340.2" rx="10.4" ry="13.5" fill="#FF66FF"/>
<text transform="translate(1055.7 352.3) scale(1.12 1.53)" class="dg">2</text>
<ellipse cx="1055.8" cy="333" rx="1.9" ry="2.4" fill="#fff"/>
<path d="M1045.2 355H1066.2" stroke="#808080" stroke-width="2.9" stroke-linecap="round"/>
<path d="M860 394.5L929.5 486L951 527" stroke="#787878" stroke-width="1.4" fill="none" stroke-linejoin="round"/>
<path d="M948.5 567.5L911.7 637L880 673" stroke="#787878" stroke-width="1.4" fill="none" stroke-linejoin="round"/>
<ellipse cx="851.7" cy="408" rx="10.4" ry="13.5" fill="#48DEE6"/>
<text transform="translate(851.4 413) scale(1.12 1.60)" class="dg">2</text>
<ellipse cx="848.5" cy="417.8" rx="2.05" ry="2.8" fill="#fff"/>
<ellipse cx="854.5" cy="417.8" rx="2.05" ry="2.8" fill="#fff"/>
<path d="M840.9 422.8H861.9" stroke="#808080" stroke-width="2.9" stroke-linecap="round"/>
<ellipse cx="890.2" cy="458.7" rx="10.4" ry="13.5" fill="#48DEE6"/>
<text transform="translate(889.9 463.7) scale(1.12 1.60)" class="dg">6</text>
<ellipse cx="887" cy="468.5" rx="2.05" ry="2.8" fill="#fff"/>
<ellipse cx="893" cy="468.5" rx="2.05" ry="2.8" fill="#fff"/>
<path d="M879.4 473.5H900.4" stroke="#808080" stroke-width="2.9" stroke-linecap="round"/>
<path d="M987.2 428.1V499.3" stroke="#808080" stroke-width="2.4"/>
<path d="M987.3 385.3V391.9" stroke="#000" stroke-width="2.4" stroke-linecap="round"/>
<ellipse cx="987.5" cy="410" rx="10.4" ry="19.1" fill="#EC812C"/>
<text transform="translate(987.2 419.4) scale(1.15 2.19)" class="dg">2</text>
<path d="M1055.2 428.1V499.3" stroke="#808080" stroke-width="2.4"/>
<path d="M1055.3 385.3V391.9" stroke="#000" stroke-width="2.4" stroke-linecap="round"/>
<ellipse cx="1055.5" cy="410" rx="10.4" ry="19.1" fill="#FF66FF"/>
<text transform="translate(1055.2 425.7) scale(1.15 2.08)" class="dg">2</text>
<ellipse cx="1055.3" cy="398.8" rx="1.9" ry="3.4" fill="#fff"/>
<path d="M997.5 336Q1024 372.2 996.5 408.5" stroke="#777" stroke-width="1.6" fill="none"/>
<ellipse cx="920" cy="499.8" rx="10.4" ry="13.5" fill="#6680F0"/>
<text transform="translate(919.7 504.8) scale(1.12 1.60)" class="dg">2</text>
<ellipse cx="919.7" cy="510.2" rx="2.05" ry="2.8" fill="#fff"/>
<path d="M909.2 514.6H930.2" stroke="#808080" stroke-width="2.9" stroke-linecap="round"/>
<path d="M942.2 522.2V528.8" stroke="#000" stroke-width="2.4" stroke-linecap="round"/>
<ellipse cx="942.4" cy="541.3" rx="10.4" ry="13.5" fill="#6680F0"/>
<text transform="translate(942.1 546.3) scale(1.12 1.60)" class="dg">4</text>
<ellipse cx="942.1" cy="551.7" rx="2.05" ry="2.8" fill="#fff"/>
<path d="M931.6 556.1H952.6" stroke="#808080" stroke-width="2.9" stroke-linecap="round"/>
<ellipse cx="958.8" cy="581.4" rx="10.4" ry="13.5" fill="#6680F0"/>
<text transform="translate(958.5 586.4) scale(1.12 1.60)" class="dg">6</text>
<ellipse cx="958.5" cy="591.8" rx="2.05" ry="2.8" fill="#fff"/>
<path d="M948 596.2H969" stroke="#808080" stroke-width="2.9" stroke-linecap="round"/>
<path d="M942.2 597.9V604.5" stroke="#000" stroke-width="2.4" stroke-linecap="round"/>
<ellipse cx="942.4" cy="617" rx="10.4" ry="13.5" fill="#6680F0"/>
<text transform="translate(942.1 622) scale(1.12 1.60)" class="dg">4</text>
<ellipse cx="942.1" cy="627.4" rx="2.05" ry="2.8" fill="#fff"/>
<path d="M931.6 631.8H952.6" stroke="#808080" stroke-width="2.9" stroke-linecap="round"/>
<ellipse cx="920" cy="651.5" rx="10.4" ry="13.5" fill="#6680F0"/>
<text transform="translate(919.7 656.5) scale(1.12 1.60)" class="dg">2</text>
<ellipse cx="919.7" cy="661.9" rx="2.05" ry="2.8" fill="#fff"/>
<path d="M909.2 666.3H930.2" stroke="#808080" stroke-width="2.9" stroke-linecap="round"/>
<ellipse cx="890.2" cy="686.7" rx="10.4" ry="13.5" fill="#48DEE6"/>
<text transform="translate(889.9 691.7) scale(1.12 1.60)" class="dg">6</text>
<ellipse cx="887" cy="696.5" rx="2.05" ry="2.8" fill="#fff"/>
<ellipse cx="893" cy="696.5" rx="2.05" ry="2.8" fill="#fff"/>
<path d="M879.4 701.5H900.4" stroke="#808080" stroke-width="2.9" stroke-linecap="round"/>
<path d="M860 735L929.5 816L951 850.5" stroke="#787878" stroke-width="1.4" fill="none" stroke-linejoin="round"/>
<path d="M1035 925L1039 966" stroke="#787878" stroke-width="1.4" fill="none" stroke-linejoin="round"/>
<path d="M1040 972L1056 1006.5" stroke="#787878" stroke-width="1.4" fill="none" stroke-linejoin="round"/>
<ellipse cx="851.7" cy="748.5" rx="10.4" ry="13.5" fill="#48DEE6"/>
<text transform="translate(851.4 753.5) scale(1.12 1.60)" class="dg">2</text>
<ellipse cx="848.5" cy="758.3" rx="2.05" ry="2.8" fill="#fff"/>
<ellipse cx="854.5" cy="758.3" rx="2.05" ry="2.8" fill="#fff"/>
<path d="M840.9 763.3H861.9" stroke="#808080" stroke-width="2.9" stroke-linecap="round"/>
<ellipse cx="890.2" cy="793.8" rx="10.4" ry="13.5" fill="#48DEE6"/>
<text transform="translate(889.9 798.8) scale(1.12 1.60)" class="dg">6</text>
<ellipse cx="887" cy="803.6" rx="2.05" ry="2.8" fill="#fff"/>
<ellipse cx="893" cy="803.6" rx="2.05" ry="2.8" fill="#fff"/>
<path d="M879.4 808.6H900.4" stroke="#808080" stroke-width="2.9" stroke-linecap="round"/>
<ellipse cx="920" cy="828.6" rx="10.4" ry="13.5" fill="#6680F0"/>
<text transform="translate(919.7 833.6) scale(1.12 1.60)" class="dg">2</text>
<ellipse cx="919.7" cy="839" rx="2.05" ry="2.8" fill="#fff"/>
<path d="M909.2 843.4H930.2" stroke="#808080" stroke-width="2.9" stroke-linecap="round"/>
<path d="M942.2 844.7V851.3" stroke="#000" stroke-width="2.4" stroke-linecap="round"/>
<ellipse cx="942.4" cy="863.8" rx="10.4" ry="13.5" fill="#6680F0"/>
<text transform="translate(942.1 868.8) scale(1.12 1.60)" class="dg">4</text>
<ellipse cx="942.1" cy="874.2" rx="2.05" ry="2.8" fill="#fff"/>
<path d="M931.6 878.6H952.6" stroke="#808080" stroke-width="2.9" stroke-linecap="round"/>
<ellipse cx="958.8" cy="897.7" rx="10.4" ry="16.7" fill="#6680F0"/>
<text transform="translate(958.5 903.4) scale(1.12 2.09)" class="dg">6</text>
<ellipse cx="958.5" cy="909.9" rx="2.05" ry="3.2" fill="#fff"/>
<path d="M987.7 768.1V821.5" stroke="#808080" stroke-width="2.4"/>
<ellipse cx="988" cy="750" rx="10.4" ry="19.1" fill="#EC812C"/>
<text transform="translate(987.7 759.3) scale(1.15 2.19)" class="dg">2</text>
<path d="M1055.7 768.1V821.5" stroke="#808080" stroke-width="2.4"/>
<ellipse cx="1056" cy="750" rx="10.4" ry="19.1" fill="#FF66FF"/>
<text transform="translate(1055.7 765.7) scale(1.15 2.08)" class="dg">2</text>
<ellipse cx="1055.8" cy="738.8" rx="1.9" ry="3.4" fill="#fff"/>
<g transform="translate(1035.1 887.1)"><circle r="1.7" fill="#000"/><path d="M0.2 0.9Q2.8 1.2 4.5 -0.8L0.7 9.7" stroke="#000" stroke-width="1.5" fill="none" stroke-linecap="round"/></g>
<ellipse cx="1026.8" cy="938.6" rx="10.4" ry="13.5" fill="#EC812C"/>
<text transform="translate(1026.5 946.6) scale(1.12 1.62)" class="dg">6</text>
<path d="M1016 953.4H1037" stroke="#808080" stroke-width="2.9" stroke-linecap="round"/>
<path d="M1028.2 960.3V966.9" stroke="#000" stroke-width="2.4" stroke-linecap="round"/>
<ellipse cx="1028.4" cy="979.4" rx="10.4" ry="13.5" fill="#EC812C"/>
<text transform="translate(1028.1 987.4) scale(1.12 1.62)" class="dg">6</text>
<path d="M1017.6 994.2H1038.6" stroke="#808080" stroke-width="2.9" stroke-linecap="round"/>
<ellipse cx="1048" cy="1020" rx="10.4" ry="13.5" fill="#FF66FF"/>
<text transform="translate(1047.7 1032.1) scale(1.12 1.53)" class="dg">1</text>
<ellipse cx="1047.8" cy="1012.8" rx="1.9" ry="2.4" fill="#fff"/>
<path d="M1037.2 1034.8H1058.2" stroke="#808080" stroke-width="2.9" stroke-linecap="round"/>
<ellipse cx="851.7" cy="979" rx="10.4" ry="16.7" fill="#48DEE6"/>
<text transform="translate(851.4 984.6) scale(1.12 2.09)" class="dg">2</text>
<ellipse cx="848.5" cy="990.6" rx="2.05" ry="3.2" fill="#fff"/>
<ellipse cx="854.5" cy="990.6" rx="2.05" ry="3.2" fill="#fff"/>
<path d="M890 1068L929 1120L971 1161" stroke="#787878" stroke-width="1.4" fill="none" stroke-linejoin="round"/>
<path d="M996 1068.5L1037 1120" stroke="#787878" stroke-width="1.4" fill="none" stroke-linejoin="round"/>
<path d="M952 1160.5L909 1195.6" stroke="#787878" stroke-width="1.4" fill="none" stroke-linejoin="round"/>
<path d="M996 1160L1040 1195L1069 1230" stroke="#787878" stroke-width="1.4" fill="none" stroke-linejoin="round"/>
<path d="M980 1230.5L1050 1230.5" stroke="#888" stroke-width="1.1" fill="none" stroke-linejoin="round"/>
<path d="M996 1256L1040 1294.5L1056 1325L1064 1361" stroke="#787878" stroke-width="1.4" fill="none" stroke-linejoin="round"/>
<path d="M890 1255.5L971 1326" stroke="#787878" stroke-width="1.4" fill="none" stroke-linejoin="round"/>
<path d="M952 1325.5L909 1360.7" stroke="#787878" stroke-width="1.4" fill="none" stroke-linejoin="round"/>
<ellipse cx="882.4" cy="1082.2" rx="10.4" ry="13.5" fill="#48DEE6"/>
<text transform="translate(882.1 1087.2) scale(1.12 1.60)" class="dg">5</text>
<ellipse cx="879.2" cy="1092" rx="2.05" ry="2.8" fill="#fff"/>
<ellipse cx="885.2" cy="1092" rx="2.05" ry="2.8" fill="#fff"/>
<path d="M871.6 1097H892.6" stroke="#808080" stroke-width="2.9" stroke-linecap="round"/>
<ellipse cx="988" cy="1082.2" rx="10.4" ry="13.5" fill="#EC812C"/>
<text transform="translate(987.7 1090.2) scale(1.12 1.62)" class="dg">2</text>
<path d="M977.2 1097H998.2" stroke="#808080" stroke-width="2.9" stroke-linecap="round"/>
<ellipse cx="1056" cy="1082.2" rx="10.4" ry="13.5" fill="#FF66FF"/>
<text transform="translate(1055.7 1094.3) scale(1.12 1.53)" class="dg">2</text>
<ellipse cx="1055.8" cy="1075" rx="1.9" ry="2.4" fill="#fff"/>
<path d="M1045.2 1097H1066.2" stroke="#808080" stroke-width="2.9" stroke-linecap="round"/>
<ellipse cx="920" cy="1133.3" rx="10.4" ry="13.5" fill="#6680F0"/>
<text transform="translate(919.7 1138.3) scale(1.12 1.60)" class="dg">2</text>
<ellipse cx="919.7" cy="1143.7" rx="2.05" ry="2.8" fill="#fff"/>
<path d="M909.2 1148.1H930.2" stroke="#808080" stroke-width="2.9" stroke-linecap="round"/>
<path d="M1028.2 1114.2V1120.8" stroke="#000" stroke-width="2.4" stroke-linecap="round"/>
<ellipse cx="1028.4" cy="1133.3" rx="10.4" ry="13.5" fill="#EC812C"/>
<text transform="translate(1028.1 1141.3) scale(1.12 1.62)" class="dg">6</text>
<path d="M1017.6 1148.1H1038.6" stroke="#808080" stroke-width="2.9" stroke-linecap="round"/>
<path d="M960.1 1154.9V1161.5" stroke="#000" stroke-width="2.4" stroke-linecap="round"/>
<ellipse cx="960.3" cy="1174" rx="10.4" ry="13.5" fill="#6680F0"/>
<text transform="translate(960 1179) scale(1.12 1.60)" class="dg">6</text>
<ellipse cx="960" cy="1184.4" rx="2.05" ry="2.8" fill="#fff"/>
<path d="M949.5 1188.8H970.5" stroke="#808080" stroke-width="2.9" stroke-linecap="round"/>
<ellipse cx="988" cy="1174" rx="10.4" ry="13.5" fill="#EC812C"/>
<text transform="translate(987.7 1182) scale(1.12 1.62)" class="dg">2</text>
<path d="M977.2 1188.8H998.2" stroke="#808080" stroke-width="2.9" stroke-linecap="round"/>
<ellipse cx="1056" cy="1174" rx="10.4" ry="13.5" fill="#FF66FF"/>
<text transform="translate(1055.7 1186.1) scale(1.12 1.53)" class="dg">2</text>
<ellipse cx="1055.8" cy="1166.8" rx="1.9" ry="2.4" fill="#fff"/>
<path d="M1045.2 1188.8H1066.2" stroke="#808080" stroke-width="2.9" stroke-linecap="round"/>
<ellipse cx="920" cy="1209" rx="10.4" ry="13.5" fill="#6680F0"/>
<text transform="translate(919.7 1214) scale(1.12 1.60)" class="dg">2</text>
<ellipse cx="919.7" cy="1219.4" rx="2.05" ry="2.8" fill="#fff"/>
<path d="M909.2 1223.8H930.2" stroke="#808080" stroke-width="2.9" stroke-linecap="round"/>
<path d="M1031.8 1189.9V1196.5" stroke="#000" stroke-width="2.4" stroke-linecap="round"/>
<ellipse cx="1032" cy="1204.3" rx="10.4" ry="8.8" fill="#EC812C"/>
<text transform="translate(1031.7 1209.1) scale(1.2 1.02)" class="dg">6</text>
<path d="M1021 1214H1042.6M1021 1216.5H1042.6" stroke="#a2a2a2" stroke-width="1.5"/>
<ellipse cx="990.8" cy="1239.3" rx="10.4" ry="8.8" fill="#EC812C"/>
<text transform="translate(990.5 1244.1) scale(1.2 1.02)" class="dg">2</text>
<path d="M979.8 1249H1001.4M979.8 1251.5H1001.4" stroke="#a2a2a2" stroke-width="1.5"/>
<ellipse cx="1059.3" cy="1239.3" rx="10.4" ry="8.8" fill="#FF66FF"/>
<text transform="translate(1059 1247.2) scale(1.2 0.92)" class="dg">2</text>
<ellipse cx="1059.1" cy="1234.8" rx="1.9" ry="1.7" fill="#fff"/>
<path d="M1048.3 1249H1069.9M1048.3 1251.5H1069.9" stroke="#a2a2a2" stroke-width="1.5"/>
<path d="M1001 1237Q1025.7 1250.8 998 1264.6" stroke="#777" stroke-width="1.6" fill="none"/>
<ellipse cx="988" cy="1269.3" rx="10.4" ry="13.5" fill="#EC812C"/>
<text transform="translate(987.7 1277.3) scale(1.12 1.62)" class="dg">2</text>
<path d="M977.2 1284.1H998.2" stroke="#808080" stroke-width="2.9" stroke-linecap="round"/>
<ellipse cx="1056" cy="1269.3" rx="10.4" ry="13.5" fill="#FF66FF"/>
<text transform="translate(1055.7 1281.4) scale(1.12 1.53)" class="dg">2</text>
<ellipse cx="1055.8" cy="1262.1" rx="1.9" ry="2.4" fill="#fff"/>
<path d="M1045.2 1284.1H1066.2" stroke="#808080" stroke-width="2.9" stroke-linecap="round"/>
<ellipse cx="882.4" cy="1269.3" rx="10.4" ry="13.5" fill="#48DEE6"/>
<text transform="translate(882.1 1274.3) scale(1.12 1.60)" class="dg">5</text>
<ellipse cx="879.2" cy="1279.1" rx="2.05" ry="2.8" fill="#fff"/>
<ellipse cx="885.2" cy="1279.1" rx="2.05" ry="2.8" fill="#fff"/>
<path d="M871.6 1284.1H892.6" stroke="#808080" stroke-width="2.9" stroke-linecap="round"/>
<ellipse cx="920" cy="1304.2" rx="10.4" ry="13.5" fill="#6680F0"/>
<text transform="translate(919.7 1309.2) scale(1.12 1.60)" class="dg">2</text>
<ellipse cx="919.7" cy="1314.6" rx="2.05" ry="2.8" fill="#fff"/>
<path d="M909.2 1319H930.2" stroke="#808080" stroke-width="2.9" stroke-linecap="round"/>
<path d="M1028.2 1285.1V1291.7" stroke="#000" stroke-width="2.4" stroke-linecap="round"/>
<ellipse cx="1028.4" cy="1304.2" rx="10.4" ry="13.5" fill="#EC812C"/>
<text transform="translate(1028.1 1312.2) scale(1.12 1.62)" class="dg">6</text>
<path d="M1017.6 1319H1038.6" stroke="#808080" stroke-width="2.9" stroke-linecap="round"/>
<path d="M960.1 1319.9V1326.5" stroke="#000" stroke-width="2.4" stroke-linecap="round"/>
<ellipse cx="960.3" cy="1339" rx="10.4" ry="13.5" fill="#6680F0"/>
<text transform="translate(960 1344) scale(1.12 1.60)" class="dg">6</text>
<ellipse cx="960" cy="1349.4" rx="2.05" ry="2.8" fill="#fff"/>
<path d="M949.5 1353.8H970.5" stroke="#808080" stroke-width="2.9" stroke-linecap="round"/>
<ellipse cx="1048" cy="1339" rx="10.4" ry="13.5" fill="#FF66FF"/>
<text transform="translate(1047.7 1351.1) scale(1.12 1.53)" class="dg">1</text>
<ellipse cx="1047.8" cy="1331.8" rx="1.9" ry="2.4" fill="#fff"/>
<path d="M1037.2 1353.8H1058.2" stroke="#808080" stroke-width="2.9" stroke-linecap="round"/>
<ellipse cx="920" cy="1374.2" rx="10.4" ry="13.5" fill="#6680F0"/>
<text transform="translate(919.7 1379.2) scale(1.12 1.60)" class="dg">2</text>
<ellipse cx="919.7" cy="1384.6" rx="2.05" ry="2.8" fill="#fff"/>
<path d="M909.2 1389H930.2" stroke="#808080" stroke-width="2.9" stroke-linecap="round"/>
<ellipse cx="1056" cy="1374.2" rx="10.4" ry="13.5" fill="#FF66FF"/>
<text transform="translate(1055.7 1386.3) scale(1.12 1.53)" class="dg">2</text>
<ellipse cx="1055.8" cy="1367" rx="1.9" ry="2.4" fill="#fff"/>
<path d="M1045.2 1389H1066.2" stroke="#808080" stroke-width="2.9" stroke-linecap="round"/>
</svg></body></html>
